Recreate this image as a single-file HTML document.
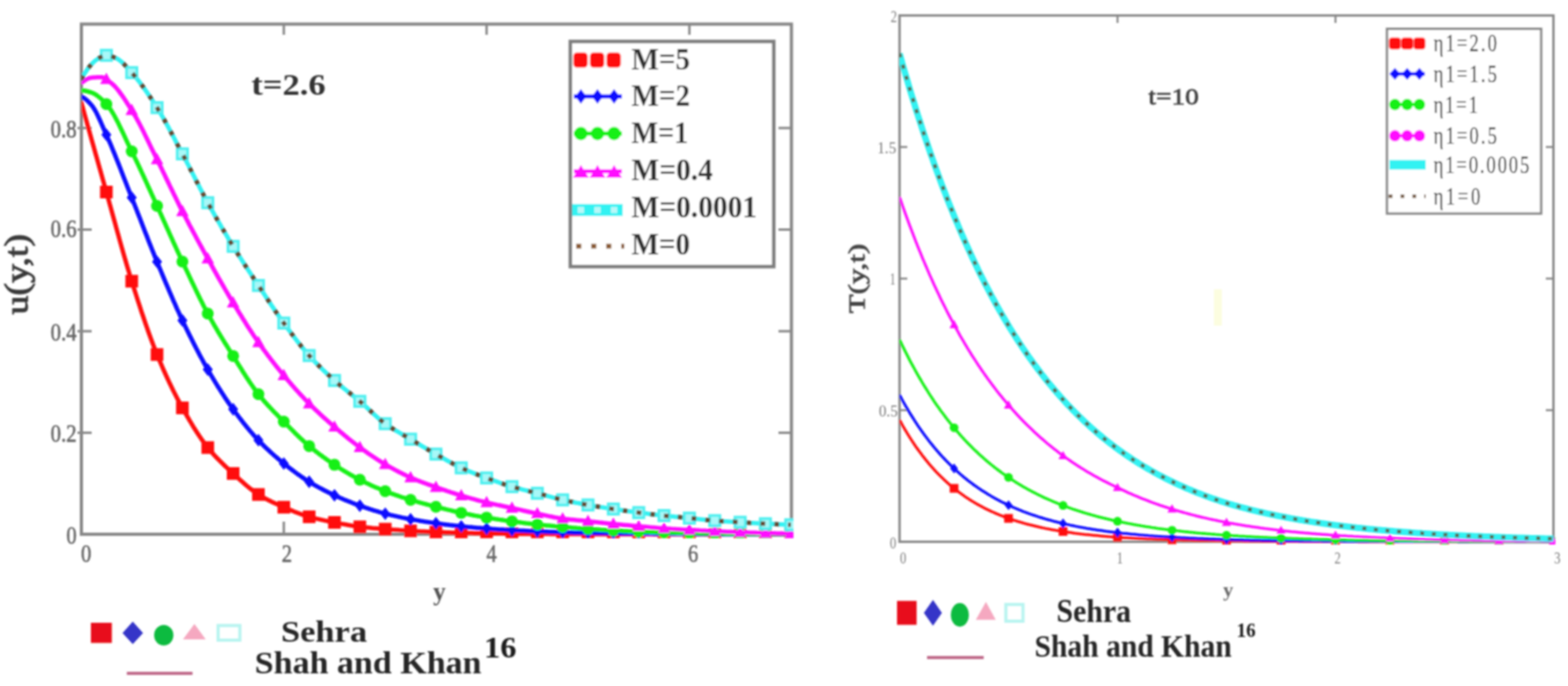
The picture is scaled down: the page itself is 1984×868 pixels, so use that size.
<!DOCTYPE html>
<html><head><meta charset="utf-8"><title>Velocity and temperature profiles</title><style>html,body{margin:0;padding:0;background:#fff;}svg{display:block;}</style></head><body>
<svg width="1984" height="868" viewBox="0 0 1984 868">
<defs><filter id="bl" filterUnits="userSpaceOnUse" x="0" y="0" width="1984" height="868"><feGaussianBlur stdDeviation="1.2"/></filter></defs>
<rect width="100%" height="100%" fill="#fff"/>
<g filter="url(#bl)">
<defs><clipPath id="cl"><rect x="103" y="30" width="901" height="651"/></clipPath><clipPath id="cr"><rect x="1138" y="19" width="830" height="670"/></clipPath></defs>
<rect x="103" y="30.5" width="898.4" height="645.5" fill="none" stroke="#878787" stroke-width="4"/>
<line x1="98" y1="547.6" x2="116" y2="547.6" stroke="#878787" stroke-width="3"/>
<line x1="1001.4" y1="547.6" x2="985" y2="547.6" stroke="#878787" stroke-width="3"/>
<line x1="98" y1="419.1" x2="116" y2="419.1" stroke="#878787" stroke-width="3"/>
<line x1="1001.4" y1="419.1" x2="985" y2="419.1" stroke="#878787" stroke-width="3"/>
<line x1="98" y1="290.5" x2="116" y2="290.5" stroke="#878787" stroke-width="3"/>
<line x1="1001.4" y1="290.5" x2="985" y2="290.5" stroke="#878787" stroke-width="3"/>
<line x1="98" y1="162.0" x2="116" y2="162.0" stroke="#878787" stroke-width="3"/>
<line x1="1001.4" y1="162.0" x2="985" y2="162.0" stroke="#878787" stroke-width="3"/>
<line x1="359.1" y1="30.5" x2="359.1" y2="44" stroke="#878787" stroke-width="3"/>
<line x1="359.1" y1="676" x2="359.1" y2="660" stroke="#878787" stroke-width="3"/>
<line x1="615.7" y1="30.5" x2="615.7" y2="44" stroke="#878787" stroke-width="3"/>
<line x1="615.7" y1="676" x2="615.7" y2="660" stroke="#878787" stroke-width="3"/>
<line x1="872.3" y1="30.5" x2="872.3" y2="44" stroke="#878787" stroke-width="3"/>
<line x1="872.3" y1="676" x2="872.3" y2="660" stroke="#878787" stroke-width="3"/>
<g clip-path="url(#cl)">
<path d="M102.5,128.5 L104.8,136.6 L107.0,144.7 L109.3,152.8 L111.5,160.8 L113.8,168.9 L116.0,176.9 L118.3,184.9 L120.5,193.0 L122.8,201.0 L125.0,209.0 L127.3,217.0 L129.5,225.0 L131.8,233.0 L134.0,241.0 L136.3,249.0 L138.5,257.0 L140.8,265.2 L143.0,273.3 L145.3,281.5 L147.5,289.6 L149.8,297.8 L152.0,305.9 L154.3,313.9 L156.5,321.8 L158.8,329.6 L161.0,337.3 L163.3,344.8 L165.5,352.2 L167.8,359.3 L170.0,366.4 L172.3,373.5 L174.5,380.5 L176.8,387.4 L179.0,394.3 L181.3,401.0 L183.5,407.6 L185.8,414.2 L188.0,420.5 L190.3,426.8 L192.5,432.8 L194.8,438.8 L197.0,444.5 L199.3,450.0 L201.5,455.4 L203.8,460.7 L206.0,465.9 L208.3,471.0 L210.5,475.9 L212.8,480.8 L215.0,485.6 L217.3,490.2 L219.5,494.8 L221.8,499.2 L224.0,503.6 L226.3,507.9 L228.5,512.1 L230.8,516.1 L233.1,520.2 L235.3,524.1 L237.6,528.0 L239.8,531.9 L242.1,535.7 L244.3,539.4 L246.6,543.0 L248.8,546.5 L251.1,550.0 L253.3,553.3 L255.6,556.6 L257.8,559.7 L260.1,562.7 L262.3,565.6 L264.6,568.3 L266.8,571.0 L269.1,573.6 L271.3,576.1 L273.6,578.5 L275.8,580.8 L278.1,583.1 L280.3,585.3 L282.6,587.5 L284.8,589.7 L287.1,591.8 L289.3,593.9 L291.6,596.0 L293.8,598.0 L296.1,600.1 L298.3,602.2 L300.6,604.2 L302.8,606.3 L305.1,608.3 L307.3,610.3 L309.6,612.3 L311.8,614.3 L314.1,616.1 L316.3,618.0 L318.6,619.7 L320.8,621.4 L323.1,623.1 L325.3,624.6 L327.6,626.0 L329.8,627.4 L332.1,628.7 L334.3,630.0 L336.6,631.2 L338.8,632.4 L341.1,633.5 L343.3,634.7 L345.6,635.7 L347.8,636.8 L350.1,637.8 L352.3,638.9 L354.6,639.9 L356.8,640.8 L359.1,641.8 L361.4,642.8 L363.6,643.7 L365.9,644.7 L368.1,645.6 L370.4,646.6 L372.6,647.5 L374.9,648.3 L377.1,649.2 L379.4,650.0 L381.6,650.9 L383.9,651.6 L386.1,652.4 L388.4,653.1 L390.6,653.7 L392.9,654.4 L395.1,655.0 L397.4,655.5 L399.6,656.1 L401.9,656.6 L404.1,657.1 L406.4,657.6 L408.6,658.1 L410.9,658.6 L413.1,659.0 L415.4,659.5 L417.6,659.9 L419.9,660.4 L422.1,660.8 L424.4,661.2 L426.6,661.7 L428.9,662.1 L431.1,662.6 L433.4,663.0 L435.6,663.4 L437.9,663.8 L440.1,664.2 L442.4,664.6 L444.6,665.0 L446.9,665.4 L449.1,665.7 L451.4,666.0 L453.6,666.3 L455.9,666.6 L458.1,666.9 L460.4,667.1 L462.6,667.4 L464.9,667.6 L467.1,667.8 L469.4,668.0 L471.6,668.3 L473.9,668.4 L476.1,668.6 L478.4,668.8 L480.6,669.0 L482.9,669.2 L485.1,669.3 L487.4,669.5 L489.7,669.7 L491.9,669.8 L494.2,670.0 L496.4,670.2 L498.7,670.3 L500.9,670.5 L503.2,670.6 L505.4,670.8 L507.7,670.9 L509.9,671.1 L512.2,671.2 L514.4,671.4 L516.7,671.5 L518.9,671.6 L521.2,671.8 L523.4,671.9 L525.7,672.0 L527.9,672.2 L530.2,672.3 L532.4,672.4 L534.7,672.5 L536.9,672.6 L539.2,672.7 L541.4,672.8 L543.7,672.9 L545.9,673.0 L548.2,673.1 L550.4,673.2 L552.7,673.3 L554.9,673.4 L557.2,673.4 L559.4,673.5 L561.7,673.6 L563.9,673.7 L566.2,673.7 L568.4,673.8 L570.7,673.9 L572.9,674.0 L575.2,674.0 L577.4,674.1 L579.7,674.2 L581.9,674.2 L584.2,674.3 L586.4,674.3 L588.7,674.4 L590.9,674.5 L593.2,674.5 L595.4,674.6 L597.7,674.6 L599.9,674.7 L602.2,674.7 L604.4,674.7 L606.7,674.8 L608.9,674.8 L611.2,674.9 L613.4,674.9 L615.7,674.9 L618.0,674.9 L620.2,675.0 L622.5,675.0 L624.7,675.0 L627.0,675.0 L629.2,675.1 L631.5,675.1 L633.7,675.1 L636.0,675.1 L638.2,675.2 L640.5,675.2 L642.7,675.2 L645.0,675.2 L647.2,675.3 L649.5,675.3 L651.7,675.3 L654.0,675.3 L656.2,675.4 L658.5,675.4 L660.7,675.4 L663.0,675.4 L665.2,675.4 L667.5,675.4 L669.7,675.5 L672.0,675.5 L674.2,675.5 L676.5,675.5 L678.7,675.5 L681.0,675.6 L683.2,675.6 L685.5,675.6 L687.7,675.6 L690.0,675.6 L692.2,675.6 L694.5,675.6 L696.7,675.7 L699.0,675.7 L701.2,675.7 L703.5,675.7 L705.7,675.7 L708.0,675.7 L710.2,675.7 L712.5,675.7 L714.7,675.8 L717.0,675.8 L719.2,675.8 L721.5,675.8 L723.7,675.8 L726.0,675.8 L728.2,675.8 L730.5,675.8 L732.7,675.8 L735.0,675.8 L737.2,675.9 L739.5,675.9 L741.7,675.9 L744.0,675.9 L746.3,675.9 L748.5,675.9 L750.8,675.9 L753.0,675.9 L755.3,675.9 L757.5,675.9 L759.8,675.9 L762.0,675.9 L764.3,675.9 L766.5,675.9 L768.8,676.0 L771.0,676.0 L773.3,676.0 L775.5,676.0 L777.8,676.0 L780.0,676.0 L782.3,676.0 L784.5,676.0 L786.8,676.0 L789.0,676.0 L791.3,676.0 L793.5,676.0 L795.8,676.0 L798.0,676.0 L800.3,676.0 L802.5,676.0 L804.8,676.0 L807.0,676.0 L809.3,676.0 L811.5,676.1 L813.8,676.1 L816.0,676.1 L818.3,676.1 L820.5,676.1 L822.8,676.1 L825.0,676.1 L827.3,676.1 L829.5,676.1 L831.8,676.1 L834.0,676.1 L836.3,676.1 L838.5,676.1 L840.8,676.1 L843.0,676.1 L845.3,676.1 L847.5,676.1 L849.8,676.1 L852.0,676.1 L854.3,676.1 L856.5,676.1 L858.8,676.1 L861.0,676.1 L863.3,676.1 L865.5,676.1 L867.8,676.1 L870.0,676.1 L872.3,676.1 L874.6,676.1 L876.8,676.1 L879.1,676.1 L881.3,676.1 L883.6,676.1 L885.8,676.1 L888.1,676.1 L890.3,676.1 L892.6,676.2 L894.8,676.2 L897.1,676.2 L899.3,676.2 L901.6,676.2 L903.8,676.2 L906.1,676.2 L908.3,676.2 L910.6,676.2 L912.8,676.2 L915.1,676.2 L917.3,676.2 L919.6,676.2 L921.8,676.2 L924.1,676.2 L926.3,676.2 L928.6,676.2 L930.8,676.2 L933.1,676.2 L935.3,676.2 L937.6,676.2 L939.8,676.2 L942.1,676.2 L944.3,676.2 L946.6,676.2 L948.8,676.2 L951.1,676.2 L953.3,676.2 L955.6,676.2 L957.8,676.2 L960.1,676.2 L962.3,676.2 L964.6,676.2 L966.8,676.2 L969.1,676.2 L971.3,676.2 L973.6,676.2 L975.8,676.2 L978.1,676.2 L980.3,676.2 L982.6,676.2 L984.8,676.2 L987.1,676.2 L989.3,676.2 L991.6,676.2 L993.8,676.2 L996.1,676.2 L998.3,676.2 L1000.6,676.2" fill="none" stroke="#ff1010" stroke-width="5.5" stroke-linejoin="round"/>
<rect x="126.6" y="235.0" width="16" height="16" fill="#ff1010"/>
<rect x="158.7" y="347.8" width="16" height="16" fill="#ff1010"/>
<rect x="190.7" y="440.6" width="16" height="16" fill="#ff1010"/>
<rect x="222.8" y="508.1" width="16" height="16" fill="#ff1010"/>
<rect x="254.9" y="558.3" width="16" height="16" fill="#ff1010"/>
<rect x="287.0" y="591.1" width="16" height="16" fill="#ff1010"/>
<rect x="319.0" y="617.7" width="16" height="16" fill="#ff1010"/>
<rect x="351.1" y="633.8" width="16" height="16" fill="#ff1010"/>
<rect x="383.2" y="645.9" width="16" height="16" fill="#ff1010"/>
<rect x="415.2" y="653.0" width="16" height="16" fill="#ff1010"/>
<rect x="447.3" y="658.6" width="16" height="16" fill="#ff1010"/>
<rect x="479.4" y="661.5" width="16" height="16" fill="#ff1010"/>
<rect x="511.5" y="663.7" width="16" height="16" fill="#ff1010"/>
<rect x="543.6" y="665.2" width="16" height="16" fill="#ff1010"/>
<rect x="575.6" y="666.3" width="16" height="16" fill="#ff1010"/>
<rect x="607.7" y="666.9" width="16" height="16" fill="#ff1010"/>
<rect x="639.8" y="667.3" width="16" height="16" fill="#ff1010"/>
<rect x="671.9" y="667.5" width="16" height="16" fill="#ff1010"/>
<rect x="703.9" y="667.7" width="16" height="16" fill="#ff1010"/>
<rect x="736.0" y="667.9" width="16" height="16" fill="#ff1010"/>
<rect x="768.1" y="668.0" width="16" height="16" fill="#ff1010"/>
<rect x="800.2" y="668.0" width="16" height="16" fill="#ff1010"/>
<rect x="832.2" y="668.1" width="16" height="16" fill="#ff1010"/>
<rect x="864.3" y="668.1" width="16" height="16" fill="#ff1010"/>
<rect x="896.4" y="668.2" width="16" height="16" fill="#ff1010"/>
<rect x="928.5" y="668.2" width="16" height="16" fill="#ff1010"/>
<rect x="960.5" y="668.2" width="16" height="16" fill="#ff1010"/>
<rect x="992.6" y="668.2" width="16" height="16" fill="#ff1010"/>
<path d="M102.5,122.1 L104.8,123.1 L107.0,124.5 L109.3,126.3 L111.5,128.4 L113.8,130.7 L116.0,133.2 L118.3,136.3 L120.5,140.0 L122.8,144.3 L125.0,149.0 L127.3,154.0 L129.5,159.1 L131.8,164.3 L134.0,169.3 L136.3,174.3 L138.5,179.4 L140.8,184.7 L143.0,190.1 L145.3,195.6 L147.5,201.2 L149.8,206.9 L152.0,212.6 L154.3,218.4 L156.5,224.2 L158.8,230.0 L161.0,235.7 L163.3,241.5 L165.5,247.2 L167.8,252.8 L170.0,258.5 L172.3,264.3 L174.5,270.0 L176.8,275.8 L179.0,281.6 L181.3,287.4 L183.5,293.2 L185.8,298.9 L188.0,304.7 L190.3,310.4 L192.5,316.0 L194.8,321.6 L197.0,327.2 L199.3,332.6 L201.5,338.1 L203.8,343.5 L206.0,348.9 L208.3,354.3 L210.5,359.6 L212.8,364.9 L215.0,370.2 L217.3,375.4 L219.5,380.6 L221.8,385.7 L224.0,390.8 L226.3,395.7 L228.5,400.6 L230.8,405.4 L233.1,410.1 L235.3,414.8 L237.6,419.4 L239.8,424.0 L242.1,428.6 L244.3,433.0 L246.6,437.5 L248.8,441.8 L251.1,446.1 L253.3,450.4 L255.6,454.5 L257.8,458.6 L260.1,462.7 L262.3,466.6 L264.6,470.5 L266.8,474.4 L269.1,478.2 L271.3,481.9 L273.6,485.6 L275.8,489.2 L278.1,492.8 L280.3,496.3 L282.6,499.8 L284.8,503.2 L287.1,506.6 L289.3,509.9 L291.6,513.1 L293.8,516.3 L296.1,519.4 L298.3,522.4 L300.6,525.4 L302.8,528.4 L305.1,531.3 L307.3,534.2 L309.6,537.0 L311.8,539.8 L314.1,542.5 L316.3,545.2 L318.6,547.8 L320.8,550.4 L323.1,552.9 L325.3,555.3 L327.6,557.7 L329.8,560.0 L332.1,562.3 L334.3,564.5 L336.6,566.7 L338.8,568.8 L341.1,570.9 L343.3,573.0 L345.6,575.0 L347.8,577.0 L350.1,578.9 L352.3,580.8 L354.6,582.7 L356.8,584.6 L359.1,586.4 L361.4,588.2 L363.6,590.0 L365.9,591.8 L368.1,593.5 L370.4,595.2 L372.6,596.9 L374.9,598.6 L377.1,600.2 L379.4,601.8 L381.6,603.4 L383.9,604.9 L386.1,606.4 L388.4,607.8 L390.6,609.3 L392.9,610.6 L395.1,612.0 L397.4,613.3 L399.6,614.6 L401.9,615.9 L404.1,617.1 L406.4,618.3 L408.6,619.5 L410.9,620.7 L413.1,621.8 L415.4,622.9 L417.6,624.0 L419.9,625.1 L422.1,626.2 L424.4,627.2 L426.6,628.2 L428.9,629.3 L431.1,630.2 L433.4,631.2 L435.6,632.2 L437.9,633.1 L440.1,634.0 L442.4,634.9 L444.6,635.8 L446.9,636.7 L449.1,637.6 L451.4,638.4 L453.6,639.2 L455.9,640.0 L458.1,640.8 L460.4,641.6 L462.6,642.4 L464.9,643.1 L467.1,643.9 L469.4,644.6 L471.6,645.3 L473.9,646.1 L476.1,646.7 L478.4,647.4 L480.6,648.1 L482.9,648.7 L485.1,649.3 L487.4,649.9 L489.7,650.5 L491.9,651.0 L494.2,651.6 L496.4,652.1 L498.7,652.6 L500.9,653.1 L503.2,653.6 L505.4,654.1 L507.7,654.6 L509.9,655.1 L512.2,655.5 L514.4,656.0 L516.7,656.4 L518.9,656.8 L521.2,657.2 L523.4,657.6 L525.7,658.0 L527.9,658.4 L530.2,658.8 L532.4,659.2 L534.7,659.5 L536.9,659.9 L539.2,660.2 L541.4,660.6 L543.7,660.9 L545.9,661.3 L548.2,661.6 L550.4,661.9 L552.7,662.2 L554.9,662.5 L557.2,662.8 L559.4,663.1 L561.7,663.4 L563.9,663.7 L566.2,664.0 L568.4,664.3 L570.7,664.5 L572.9,664.8 L575.2,665.1 L577.4,665.3 L579.7,665.6 L581.9,665.8 L584.2,666.0 L586.4,666.3 L588.7,666.5 L590.9,666.7 L593.2,666.9 L595.4,667.1 L597.7,667.3 L599.9,667.6 L602.2,667.7 L604.4,667.9 L606.7,668.1 L608.9,668.3 L611.2,668.5 L613.4,668.6 L615.7,668.8 L618.0,669.0 L620.2,669.1 L622.5,669.3 L624.7,669.4 L627.0,669.6 L629.2,669.7 L631.5,669.9 L633.7,670.0 L636.0,670.1 L638.2,670.3 L640.5,670.4 L642.7,670.5 L645.0,670.7 L647.2,670.8 L649.5,670.9 L651.7,671.0 L654.0,671.2 L656.2,671.3 L658.5,671.4 L660.7,671.5 L663.0,671.6 L665.2,671.7 L667.5,671.8 L669.7,671.9 L672.0,672.0 L674.2,672.1 L676.5,672.2 L678.7,672.3 L681.0,672.4 L683.2,672.5 L685.5,672.6 L687.7,672.6 L690.0,672.7 L692.2,672.8 L694.5,672.9 L696.7,673.0 L699.0,673.1 L701.2,673.1 L703.5,673.2 L705.7,673.3 L708.0,673.4 L710.2,673.4 L712.5,673.5 L714.7,673.6 L717.0,673.6 L719.2,673.7 L721.5,673.8 L723.7,673.8 L726.0,673.9 L728.2,673.9 L730.5,674.0 L732.7,674.0 L735.0,674.1 L737.2,674.1 L739.5,674.2 L741.7,674.2 L744.0,674.3 L746.3,674.3 L748.5,674.3 L750.8,674.4 L753.0,674.4 L755.3,674.5 L757.5,674.5 L759.8,674.5 L762.0,674.6 L764.3,674.6 L766.5,674.6 L768.8,674.7 L771.0,674.7 L773.3,674.7 L775.5,674.8 L777.8,674.8 L780.0,674.8 L782.3,674.9 L784.5,674.9 L786.8,674.9 L789.0,674.9 L791.3,675.0 L793.5,675.0 L795.8,675.0 L798.0,675.1 L800.3,675.1 L802.5,675.1 L804.8,675.1 L807.0,675.2 L809.3,675.2 L811.5,675.2 L813.8,675.2 L816.0,675.3 L818.3,675.3 L820.5,675.3 L822.8,675.3 L825.0,675.3 L827.3,675.4 L829.5,675.4 L831.8,675.4 L834.0,675.4 L836.3,675.4 L838.5,675.5 L840.8,675.5 L843.0,675.5 L845.3,675.5 L847.5,675.5 L849.8,675.6 L852.0,675.6 L854.3,675.6 L856.5,675.6 L858.8,675.6 L861.0,675.6 L863.3,675.6 L865.5,675.7 L867.8,675.7 L870.0,675.7 L872.3,675.7 L874.6,675.7 L876.8,675.7 L879.1,675.7 L881.3,675.7 L883.6,675.7 L885.8,675.7 L888.1,675.8 L890.3,675.8 L892.6,675.8 L894.8,675.8 L897.1,675.8 L899.3,675.8 L901.6,675.8 L903.8,675.8 L906.1,675.8 L908.3,675.8 L910.6,675.9 L912.8,675.9 L915.1,675.9 L917.3,675.9 L919.6,675.9 L921.8,675.9 L924.1,675.9 L926.3,675.9 L928.6,675.9 L930.8,675.9 L933.1,675.9 L935.3,676.0 L937.6,676.0 L939.8,676.0 L942.1,676.0 L944.3,676.0 L946.6,676.0 L948.8,676.0 L951.1,676.0 L953.3,676.0 L955.6,676.0 L957.8,676.0 L960.1,676.0 L962.3,676.0 L964.6,676.0 L966.8,676.0 L969.1,676.0 L971.3,676.0 L973.6,676.0 L975.8,676.1 L978.1,676.1 L980.3,676.1 L982.6,676.1 L984.8,676.1 L987.1,676.1 L989.3,676.1 L991.6,676.1 L993.8,676.1 L996.1,676.1 L998.3,676.1 L1000.6,676.1" fill="none" stroke="#0a0aff" stroke-width="5.5" stroke-linejoin="round"/>
<path d="M134.6,162.5 L140.9,170.6 L134.6,178.6 L128.3,170.6Z" fill="#0a0aff"/>
<path d="M166.7,242.0 L173.0,250.0 L166.7,258.1 L160.3,250.0Z" fill="#0a0aff"/>
<path d="M198.7,323.2 L205.0,331.3 L198.7,339.3 L192.4,331.3Z" fill="#0a0aff"/>
<path d="M230.8,397.3 L237.1,405.4 L230.8,413.4 L224.5,405.4Z" fill="#0a0aff"/>
<path d="M262.9,459.6 L269.2,467.6 L262.9,475.7 L256.6,467.6Z" fill="#0a0aff"/>
<path d="M295.0,509.8 L301.3,517.8 L295.0,525.9 L288.7,517.8Z" fill="#0a0aff"/>
<path d="M327.0,549.0 L333.3,557.1 L327.0,565.1 L320.7,557.1Z" fill="#0a0aff"/>
<path d="M359.1,578.4 L365.4,586.4 L359.1,594.5 L352.8,586.4Z" fill="#0a0aff"/>
<path d="M391.2,601.6 L397.5,609.6 L391.2,617.7 L384.9,609.6Z" fill="#0a0aff"/>
<path d="M423.2,618.7 L429.6,626.7 L423.2,634.8 L416.9,626.7Z" fill="#0a0aff"/>
<path d="M455.3,631.8 L461.6,639.8 L455.3,647.9 L449.0,639.8Z" fill="#0a0aff"/>
<path d="M487.4,641.9 L493.7,649.9 L487.4,658.0 L481.1,649.9Z" fill="#0a0aff"/>
<path d="M519.5,648.9 L525.8,656.9 L519.5,665.0 L513.2,656.9Z" fill="#0a0aff"/>
<path d="M551.6,654.0 L557.9,662.1 L551.6,670.1 L545.3,662.1Z" fill="#0a0aff"/>
<path d="M583.6,657.9 L589.9,666.0 L583.6,674.0 L577.3,666.0Z" fill="#0a0aff"/>
<path d="M615.7,660.8 L622.0,668.8 L615.7,676.9 L609.4,668.8Z" fill="#0a0aff"/>
<path d="M647.8,662.8 L654.1,670.8 L647.8,678.9 L641.5,670.8Z" fill="#0a0aff"/>
<path d="M679.9,664.3 L686.1,672.3 L679.9,680.4 L673.6,672.3Z" fill="#0a0aff"/>
<path d="M711.9,665.4 L718.2,673.5 L711.9,681.5 L705.6,673.5Z" fill="#0a0aff"/>
<path d="M744.0,666.2 L750.3,674.3 L744.0,682.3 L737.7,674.3Z" fill="#0a0aff"/>
<path d="M776.1,666.7 L782.4,674.8 L776.1,682.8 L769.8,674.8Z" fill="#0a0aff"/>
<path d="M808.2,667.1 L814.5,675.2 L808.2,683.2 L801.9,675.2Z" fill="#0a0aff"/>
<path d="M840.2,667.4 L846.5,675.5 L840.2,683.5 L833.9,675.5Z" fill="#0a0aff"/>
<path d="M872.3,667.6 L878.6,675.7 L872.3,683.7 L866.0,675.7Z" fill="#0a0aff"/>
<path d="M904.4,667.8 L910.7,675.8 L904.4,683.9 L898.1,675.8Z" fill="#0a0aff"/>
<path d="M936.5,667.9 L942.8,676.0 L936.5,684.0 L930.2,676.0Z" fill="#0a0aff"/>
<path d="M968.5,668.0 L974.8,676.0 L968.5,684.1 L962.2,676.0Z" fill="#0a0aff"/>
<path d="M1000.6,668.0 L1006.9,676.1 L1000.6,684.1 L994.3,676.1Z" fill="#0a0aff"/>
<path d="M102.5,114.4 L104.8,114.5 L107.0,114.8 L109.3,115.3 L111.5,115.8 L113.8,116.5 L116.0,117.2 L118.3,118.1 L120.5,119.4 L122.8,120.9 L125.0,122.6 L127.3,124.5 L129.5,126.6 L131.8,128.8 L134.0,131.2 L136.3,133.7 L138.5,136.6 L140.8,139.9 L143.0,143.5 L145.3,147.5 L147.5,151.7 L149.8,156.1 L152.0,160.7 L154.3,165.5 L156.5,170.2 L158.8,175.1 L161.0,179.9 L163.3,184.6 L165.5,189.3 L167.8,193.8 L170.0,198.4 L172.3,203.0 L174.5,207.7 L176.8,212.5 L179.0,217.4 L181.3,222.2 L183.5,227.1 L185.8,232.1 L188.0,237.0 L190.3,242.0 L192.5,246.9 L194.8,251.9 L197.0,256.8 L199.3,261.7 L201.5,266.6 L203.8,271.6 L206.0,276.6 L208.3,281.6 L210.5,286.6 L212.8,291.6 L215.0,296.6 L217.3,301.6 L219.5,306.6 L221.8,311.5 L224.0,316.5 L226.3,321.4 L228.5,326.2 L230.8,331.0 L233.1,335.8 L235.3,340.6 L237.6,345.4 L239.8,350.2 L242.1,355.0 L244.3,359.7 L246.6,364.4 L248.8,369.1 L251.1,373.7 L253.3,378.3 L255.6,382.8 L257.8,387.2 L260.1,391.5 L262.3,395.7 L264.6,399.9 L266.8,403.9 L269.1,407.9 L271.3,411.8 L273.6,415.7 L275.8,419.5 L278.1,423.2 L280.3,426.9 L282.6,430.6 L284.8,434.2 L287.1,437.8 L289.3,441.4 L291.6,445.0 L293.8,448.6 L296.1,452.2 L298.3,455.8 L300.6,459.4 L302.8,463.0 L305.1,466.6 L307.3,470.2 L309.6,473.7 L311.8,477.2 L314.1,480.6 L316.3,484.0 L318.6,487.3 L320.8,490.5 L323.1,493.6 L325.3,496.6 L327.6,499.5 L329.8,502.3 L332.1,505.0 L334.3,507.6 L336.6,510.1 L338.8,512.6 L341.1,515.0 L343.3,517.4 L345.6,519.8 L347.8,522.1 L350.1,524.4 L352.3,526.7 L354.6,528.9 L356.8,531.2 L359.1,533.5 L361.4,535.8 L363.6,538.1 L365.9,540.4 L368.1,542.6 L370.4,544.9 L372.6,547.2 L374.9,549.4 L377.1,551.6 L379.4,553.7 L381.6,555.9 L383.9,557.9 L386.1,560.0 L388.4,562.0 L390.6,563.9 L392.9,565.8 L395.1,567.6 L397.4,569.4 L399.6,571.2 L401.9,572.9 L404.1,574.7 L406.4,576.3 L408.6,578.0 L410.9,579.6 L413.1,581.2 L415.4,582.8 L417.6,584.4 L419.9,585.9 L422.1,587.4 L424.4,588.9 L426.6,590.3 L428.9,591.8 L431.1,593.2 L433.4,594.6 L435.6,596.0 L437.9,597.3 L440.1,598.7 L442.4,600.0 L444.6,601.3 L446.9,602.5 L449.1,603.8 L451.4,605.0 L453.6,606.2 L455.9,607.3 L458.1,608.5 L460.4,609.6 L462.6,610.7 L464.9,611.8 L467.1,612.8 L469.4,613.9 L471.6,614.9 L473.9,615.9 L476.1,616.9 L478.4,617.8 L480.6,618.8 L482.9,619.7 L485.1,620.6 L487.4,621.5 L489.7,622.4 L491.9,623.2 L494.2,624.1 L496.4,624.9 L498.7,625.7 L500.9,626.5 L503.2,627.2 L505.4,628.0 L507.7,628.8 L509.9,629.5 L512.2,630.2 L514.4,630.9 L516.7,631.6 L518.9,632.3 L521.2,633.0 L523.4,633.7 L525.7,634.3 L527.9,634.9 L530.2,635.6 L532.4,636.2 L534.7,636.8 L536.9,637.4 L539.2,638.0 L541.4,638.6 L543.7,639.2 L545.9,639.7 L548.2,640.3 L550.4,640.9 L552.7,641.5 L554.9,642.0 L557.2,642.6 L559.4,643.2 L561.7,643.7 L563.9,644.3 L566.2,644.9 L568.4,645.4 L570.7,645.9 L572.9,646.5 L575.2,647.0 L577.4,647.5 L579.7,648.0 L581.9,648.5 L584.2,649.0 L586.4,649.5 L588.7,649.9 L590.9,650.4 L593.2,650.8 L595.4,651.3 L597.7,651.7 L599.9,652.2 L602.2,652.6 L604.4,653.0 L606.7,653.4 L608.9,653.8 L611.2,654.2 L613.4,654.6 L615.7,654.9 L618.0,655.3 L620.2,655.6 L622.5,656.0 L624.7,656.3 L627.0,656.7 L629.2,657.0 L631.5,657.4 L633.7,657.7 L636.0,658.0 L638.2,658.4 L640.5,658.7 L642.7,659.0 L645.0,659.3 L647.2,659.6 L649.5,659.9 L651.7,660.2 L654.0,660.5 L656.2,660.8 L658.5,661.1 L660.7,661.4 L663.0,661.7 L665.2,662.0 L667.5,662.2 L669.7,662.5 L672.0,662.8 L674.2,663.0 L676.5,663.3 L678.7,663.5 L681.0,663.8 L683.2,664.0 L685.5,664.3 L687.7,664.5 L690.0,664.7 L692.2,664.9 L694.5,665.1 L696.7,665.3 L699.0,665.5 L701.2,665.8 L703.5,666.0 L705.7,666.1 L708.0,666.3 L710.2,666.5 L712.5,666.7 L714.7,666.9 L717.0,667.1 L719.2,667.3 L721.5,667.5 L723.7,667.7 L726.0,667.9 L728.2,668.1 L730.5,668.3 L732.7,668.4 L735.0,668.6 L737.2,668.8 L739.5,668.9 L741.7,669.1 L744.0,669.3 L746.3,669.4 L748.5,669.5 L750.8,669.7 L753.0,669.8 L755.3,670.0 L757.5,670.1 L759.8,670.3 L762.0,670.4 L764.3,670.5 L766.5,670.7 L768.8,670.8 L771.0,670.9 L773.3,671.0 L775.5,671.2 L777.8,671.3 L780.0,671.4 L782.3,671.5 L784.5,671.6 L786.8,671.7 L789.0,671.9 L791.3,672.0 L793.5,672.1 L795.8,672.2 L798.0,672.3 L800.3,672.4 L802.5,672.4 L804.8,672.5 L807.0,672.6 L809.3,672.7 L811.5,672.8 L813.8,672.9 L816.0,672.9 L818.3,673.0 L820.5,673.1 L822.8,673.2 L825.0,673.3 L827.3,673.3 L829.5,673.4 L831.8,673.5 L834.0,673.5 L836.3,673.6 L838.5,673.7 L840.8,673.7 L843.0,673.8 L845.3,673.9 L847.5,673.9 L849.8,674.0 L852.0,674.0 L854.3,674.1 L856.5,674.2 L858.8,674.2 L861.0,674.3 L863.3,674.3 L865.5,674.3 L867.8,674.4 L870.0,674.4 L872.3,674.5 L874.6,674.5 L876.8,674.5 L879.1,674.6 L881.3,674.6 L883.6,674.6 L885.8,674.7 L888.1,674.7 L890.3,674.8 L892.6,674.8 L894.8,674.8 L897.1,674.9 L899.3,674.9 L901.6,674.9 L903.8,675.0 L906.1,675.0 L908.3,675.0 L910.6,675.1 L912.8,675.1 L915.1,675.1 L917.3,675.2 L919.6,675.2 L921.8,675.2 L924.1,675.2 L926.3,675.3 L928.6,675.3 L930.8,675.3 L933.1,675.4 L935.3,675.4 L937.6,675.4 L939.8,675.4 L942.1,675.5 L944.3,675.5 L946.6,675.5 L948.8,675.5 L951.1,675.6 L953.3,675.6 L955.6,675.6 L957.8,675.6 L960.1,675.6 L962.3,675.7 L964.6,675.7 L966.8,675.7 L969.1,675.7 L971.3,675.7 L973.6,675.7 L975.8,675.7 L978.1,675.8 L980.3,675.8 L982.6,675.8 L984.8,675.8 L987.1,675.8 L989.3,675.8 L991.6,675.8 L993.8,675.8 L996.1,675.8 L998.3,675.8 L1000.6,675.8" fill="none" stroke="#14f014" stroke-width="5.5" stroke-linejoin="round"/>
<circle cx="134.6" cy="131.7" r="7.5" fill="#14f014"/>
<circle cx="166.7" cy="191.5" r="7.5" fill="#14f014"/>
<circle cx="198.7" cy="260.5" r="7.5" fill="#14f014"/>
<circle cx="230.8" cy="331.0" r="7.5" fill="#14f014"/>
<circle cx="262.9" cy="396.8" r="7.5" fill="#14f014"/>
<circle cx="295.0" cy="450.4" r="7.5" fill="#14f014"/>
<circle cx="327.0" cy="498.8" r="7.5" fill="#14f014"/>
<circle cx="359.1" cy="533.5" r="7.5" fill="#14f014"/>
<circle cx="391.2" cy="564.4" r="7.5" fill="#14f014"/>
<circle cx="423.2" cy="588.1" r="7.5" fill="#14f014"/>
<circle cx="455.3" cy="607.0" r="7.5" fill="#14f014"/>
<circle cx="487.4" cy="621.5" r="7.5" fill="#14f014"/>
<circle cx="519.5" cy="632.5" r="7.5" fill="#14f014"/>
<circle cx="551.6" cy="641.2" r="7.5" fill="#14f014"/>
<circle cx="583.6" cy="648.9" r="7.5" fill="#14f014"/>
<circle cx="615.7" cy="654.9" r="7.5" fill="#14f014"/>
<circle cx="647.8" cy="659.7" r="7.5" fill="#14f014"/>
<circle cx="679.9" cy="663.7" r="7.5" fill="#14f014"/>
<circle cx="711.9" cy="666.7" r="7.5" fill="#14f014"/>
<circle cx="744.0" cy="669.3" r="7.5" fill="#14f014"/>
<circle cx="776.1" cy="671.2" r="7.5" fill="#14f014"/>
<circle cx="808.2" cy="672.7" r="7.5" fill="#14f014"/>
<circle cx="840.2" cy="673.7" r="7.5" fill="#14f014"/>
<circle cx="872.3" cy="674.5" r="7.5" fill="#14f014"/>
<circle cx="904.4" cy="675.0" r="7.5" fill="#14f014"/>
<circle cx="936.5" cy="675.4" r="7.5" fill="#14f014"/>
<circle cx="968.5" cy="675.7" r="7.5" fill="#14f014"/>
<circle cx="1000.6" cy="675.8" r="7.5" fill="#14f014"/>
<path d="M102.5,105.4 L104.8,103.6 L107.0,102.0 L109.3,100.5 L111.5,99.4 L113.8,98.6 L116.0,98.3 L118.3,98.1 L120.5,97.9 L122.8,97.8 L125.0,97.7 L127.3,97.7 L129.5,97.8 L131.8,98.6 L134.0,99.9 L136.3,101.5 L138.5,103.4 L140.8,105.2 L143.0,107.1 L145.3,109.3 L147.5,111.8 L149.8,114.5 L152.0,117.5 L154.3,120.6 L156.5,123.8 L158.8,127.2 L161.0,130.7 L163.3,134.2 L165.5,137.7 L167.8,141.3 L170.0,145.0 L172.3,148.9 L174.5,153.0 L176.8,157.3 L179.0,161.6 L181.3,166.1 L183.5,170.6 L185.8,175.3 L188.0,179.9 L190.3,184.6 L192.5,189.2 L194.8,193.8 L197.0,198.4 L199.3,202.9 L201.5,207.5 L203.8,212.0 L206.0,216.7 L208.3,221.3 L210.5,226.0 L212.8,230.7 L215.0,235.4 L217.3,240.0 L219.5,244.7 L221.8,249.3 L224.0,253.9 L226.3,258.5 L228.5,263.0 L230.8,267.4 L233.1,271.8 L235.3,276.1 L237.6,280.4 L239.8,284.7 L242.1,288.9 L244.3,293.1 L246.6,297.3 L248.8,301.5 L251.1,305.7 L253.3,309.8 L255.6,313.9 L257.8,318.0 L260.1,322.1 L262.3,326.1 L264.6,330.2 L266.8,334.2 L269.1,338.3 L271.3,342.3 L273.6,346.3 L275.8,350.3 L278.1,354.3 L280.3,358.2 L282.6,362.1 L284.8,366.0 L287.1,369.9 L289.3,373.7 L291.6,377.5 L293.8,381.2 L296.1,384.9 L298.3,388.6 L300.6,392.3 L302.8,396.0 L305.1,399.6 L307.3,403.2 L309.6,406.8 L311.8,410.4 L314.1,413.9 L316.3,417.4 L318.6,420.8 L320.8,424.2 L323.1,427.5 L325.3,430.8 L327.6,434.0 L329.8,437.2 L332.1,440.3 L334.3,443.4 L336.6,446.4 L338.8,449.5 L341.1,452.4 L343.3,455.4 L345.6,458.3 L347.8,461.1 L350.1,464.0 L352.3,466.8 L354.6,469.5 L356.8,472.3 L359.1,475.0 L361.4,477.7 L363.6,480.4 L365.9,483.0 L368.1,485.6 L370.4,488.2 L372.6,490.8 L374.9,493.3 L377.1,495.8 L379.4,498.3 L381.6,500.7 L383.9,503.1 L386.1,505.5 L388.4,507.8 L390.6,510.1 L392.9,512.4 L395.1,514.6 L397.4,516.8 L399.6,518.9 L401.9,521.0 L404.1,523.1 L406.4,525.2 L408.6,527.3 L410.9,529.3 L413.1,531.3 L415.4,533.3 L417.6,535.3 L419.9,537.2 L422.1,539.2 L424.4,541.1 L426.6,543.0 L428.9,544.9 L431.1,546.8 L433.4,548.7 L435.6,550.6 L437.9,552.4 L440.1,554.3 L442.4,556.1 L444.6,557.9 L446.9,559.6 L449.1,561.4 L451.4,563.1 L453.6,564.8 L455.9,566.4 L458.1,568.1 L460.4,569.7 L462.6,571.3 L464.9,572.9 L467.1,574.5 L469.4,576.0 L471.6,577.5 L473.9,579.0 L476.1,580.5 L478.4,582.0 L480.6,583.4 L482.9,584.8 L485.1,586.2 L487.4,587.5 L489.7,588.8 L491.9,590.1 L494.2,591.4 L496.4,592.6 L498.7,593.9 L500.9,595.1 L503.2,596.3 L505.4,597.5 L507.7,598.6 L509.9,599.7 L512.2,600.8 L514.4,601.9 L516.7,602.9 L518.9,604.0 L521.2,604.9 L523.4,605.9 L525.7,606.8 L527.9,607.7 L530.2,608.6 L532.4,609.5 L534.7,610.3 L536.9,611.2 L539.2,612.0 L541.4,612.8 L543.7,613.6 L545.9,614.4 L548.2,615.2 L550.4,616.0 L552.7,616.8 L554.9,617.6 L557.2,618.4 L559.4,619.2 L561.7,619.9 L563.9,620.7 L566.2,621.5 L568.4,622.2 L570.7,623.0 L572.9,623.7 L575.2,624.4 L577.4,625.1 L579.7,625.8 L581.9,626.5 L584.2,627.2 L586.4,627.9 L588.7,628.5 L590.9,629.2 L593.2,629.8 L595.4,630.5 L597.7,631.1 L599.9,631.7 L602.2,632.4 L604.4,633.0 L606.7,633.6 L608.9,634.1 L611.2,634.7 L613.4,635.3 L615.7,635.8 L618.0,636.4 L620.2,636.9 L622.5,637.4 L624.7,637.9 L627.0,638.4 L629.2,638.9 L631.5,639.3 L633.7,639.8 L636.0,640.3 L638.2,640.7 L640.5,641.2 L642.7,641.7 L645.0,642.2 L647.2,642.7 L649.5,643.1 L651.7,643.6 L654.0,644.1 L656.2,644.6 L658.5,645.1 L660.7,645.7 L663.0,646.2 L665.2,646.7 L667.5,647.2 L669.7,647.7 L672.0,648.2 L674.2,648.6 L676.5,649.1 L678.7,649.6 L681.0,650.1 L683.2,650.6 L685.5,651.1 L687.7,651.6 L690.0,652.1 L692.2,652.6 L694.5,653.1 L696.7,653.5 L699.0,654.0 L701.2,654.5 L703.5,654.9 L705.7,655.3 L708.0,655.7 L710.2,656.0 L712.5,656.3 L714.7,656.6 L717.0,656.9 L719.2,657.1 L721.5,657.4 L723.7,657.6 L726.0,657.8 L728.2,658.0 L730.5,658.2 L732.7,658.4 L735.0,658.6 L737.2,658.8 L739.5,659.0 L741.7,659.3 L744.0,659.5 L746.3,659.7 L748.5,660.0 L750.8,660.2 L753.0,660.5 L755.3,660.7 L757.5,661.0 L759.8,661.2 L762.0,661.5 L764.3,661.8 L766.5,662.0 L768.8,662.3 L771.0,662.5 L773.3,662.7 L775.5,663.0 L777.8,663.2 L780.0,663.4 L782.3,663.6 L784.5,663.8 L786.8,664.0 L789.0,664.2 L791.3,664.4 L793.5,664.6 L795.8,664.8 L798.0,665.0 L800.3,665.2 L802.5,665.4 L804.8,665.6 L807.0,665.8 L809.3,666.0 L811.5,666.2 L813.8,666.4 L816.0,666.6 L818.3,666.8 L820.5,667.0 L822.8,667.2 L825.0,667.4 L827.3,667.6 L829.5,667.8 L831.8,668.0 L834.0,668.2 L836.3,668.3 L838.5,668.5 L840.8,668.7 L843.0,668.8 L845.3,669.0 L847.5,669.1 L849.8,669.3 L852.0,669.4 L854.3,669.5 L856.5,669.7 L858.8,669.8 L861.0,669.9 L863.3,670.1 L865.5,670.2 L867.8,670.3 L870.0,670.4 L872.3,670.5 L874.6,670.7 L876.8,670.8 L879.1,670.9 L881.3,671.0 L883.6,671.1 L885.8,671.3 L888.1,671.4 L890.3,671.5 L892.6,671.6 L894.8,671.7 L897.1,671.8 L899.3,671.9 L901.6,672.0 L903.8,672.1 L906.1,672.3 L908.3,672.4 L910.6,672.5 L912.8,672.6 L915.1,672.7 L917.3,672.8 L919.6,672.9 L921.8,672.9 L924.1,673.0 L926.3,673.1 L928.6,673.2 L930.8,673.3 L933.1,673.4 L935.3,673.5 L937.6,673.5 L939.8,673.6 L942.1,673.7 L944.3,673.8 L946.6,673.8 L948.8,673.9 L951.1,674.0 L953.3,674.1 L955.6,674.1 L957.8,674.2 L960.1,674.3 L962.3,674.3 L964.6,674.4 L966.8,674.5 L969.1,674.5 L971.3,674.6 L973.6,674.6 L975.8,674.7 L978.1,674.8 L980.3,674.8 L982.6,674.9 L984.8,674.9 L987.1,675.0 L989.3,675.0 L991.6,675.1 L993.8,675.1 L996.1,675.2 L998.3,675.2 L1000.6,675.2" fill="none" stroke="#ff10ff" stroke-width="5.5" stroke-linejoin="round"/>
<path d="M134.6,92.0 L142.4,106.3 L126.7,106.3Z" fill="#ff10ff"/>
<path d="M166.7,131.2 L174.5,145.5 L158.8,145.5Z" fill="#ff10ff"/>
<path d="M198.7,193.6 L206.6,207.8 L190.9,207.8Z" fill="#ff10ff"/>
<path d="M230.8,259.1 L238.7,273.4 L222.9,273.4Z" fill="#ff10ff"/>
<path d="M262.9,318.9 L270.8,333.2 L255.0,333.2Z" fill="#ff10ff"/>
<path d="M295.0,374.8 L302.8,389.1 L287.1,389.1Z" fill="#ff10ff"/>
<path d="M327.0,425.0 L334.9,439.2 L319.2,439.2Z" fill="#ff10ff"/>
<path d="M359.1,466.8 L367.0,481.0 L351.2,481.0Z" fill="#ff10ff"/>
<path d="M391.2,502.4 L399.1,516.7 L383.3,516.7Z" fill="#ff10ff"/>
<path d="M423.2,531.9 L431.1,546.1 L415.4,546.1Z" fill="#ff10ff"/>
<path d="M455.3,557.8 L463.2,572.0 L447.5,572.0Z" fill="#ff10ff"/>
<path d="M487.4,579.2 L495.3,593.5 L479.5,593.5Z" fill="#ff10ff"/>
<path d="M519.5,596.0 L527.4,610.2 L511.6,610.2Z" fill="#ff10ff"/>
<path d="M551.6,608.2 L559.4,622.4 L543.7,622.4Z" fill="#ff10ff"/>
<path d="M583.6,618.8 L591.5,633.0 L575.8,633.0Z" fill="#ff10ff"/>
<path d="M615.7,627.6 L623.6,641.8 L607.8,641.8Z" fill="#ff10ff"/>
<path d="M647.8,634.5 L655.7,648.8 L639.9,648.8Z" fill="#ff10ff"/>
<path d="M679.9,641.6 L687.7,655.8 L672.0,655.8Z" fill="#ff10ff"/>
<path d="M711.9,648.0 L719.8,662.3 L704.1,662.3Z" fill="#ff10ff"/>
<path d="M744.0,651.2 L751.9,665.5 L736.1,665.5Z" fill="#ff10ff"/>
<path d="M776.1,654.8 L784.0,669.0 L768.2,669.0Z" fill="#ff10ff"/>
<path d="M808.2,657.7 L816.0,671.9 L800.3,671.9Z" fill="#ff10ff"/>
<path d="M840.2,660.4 L848.1,674.6 L832.4,674.6Z" fill="#ff10ff"/>
<path d="M872.3,662.3 L880.2,676.5 L864.4,676.5Z" fill="#ff10ff"/>
<path d="M904.4,663.9 L912.3,678.2 L896.5,678.2Z" fill="#ff10ff"/>
<path d="M936.5,665.3 L944.3,679.5 L928.6,679.5Z" fill="#ff10ff"/>
<path d="M968.5,666.3 L976.4,680.5 L960.7,680.5Z" fill="#ff10ff"/>
<path d="M1000.6,667.0 L1008.5,681.2 L992.7,681.2Z" fill="#ff10ff"/>
<path d="M102.5,100.9 L104.8,96.8 L107.0,93.0 L109.3,89.6 L111.5,86.4 L113.8,83.6 L116.0,81.0 L118.3,78.7 L120.5,76.7 L122.8,75.2 L125.0,73.7 L127.3,72.4 L129.5,71.3 L131.8,70.4 L134.0,70.1 L136.3,70.1 L138.5,70.5 L140.8,71.2 L143.0,72.0 L145.3,73.0 L147.5,73.9 L149.8,75.2 L152.0,76.8 L154.3,78.7 L156.5,80.8 L158.8,83.1 L161.0,85.6 L163.3,88.1 L165.5,90.6 L167.8,93.1 L170.0,95.7 L172.3,98.4 L174.5,101.2 L176.8,104.1 L179.0,107.1 L181.3,110.2 L183.5,113.4 L185.8,116.6 L188.0,119.9 L190.3,123.2 L192.5,126.6 L194.8,130.1 L197.0,133.6 L199.3,137.1 L201.5,140.8 L203.8,144.6 L206.0,148.4 L208.3,152.4 L210.5,156.5 L212.8,160.6 L215.0,164.8 L217.3,169.1 L219.5,173.3 L221.8,177.6 L224.0,181.9 L226.3,186.2 L228.5,190.5 L230.8,194.7 L233.1,199.0 L235.3,203.3 L237.6,207.6 L239.8,212.0 L242.1,216.4 L244.3,220.8 L246.6,225.3 L248.8,229.7 L251.1,234.1 L253.3,238.4 L255.6,242.8 L257.8,247.1 L260.1,251.3 L262.3,255.4 L264.6,259.5 L266.8,263.6 L269.1,267.6 L271.3,271.6 L273.6,275.6 L275.8,279.5 L278.1,283.4 L280.3,287.3 L282.6,291.1 L284.8,294.9 L287.1,298.7 L289.3,302.5 L291.6,306.2 L293.8,309.9 L296.1,313.6 L298.3,317.2 L300.6,320.8 L302.8,324.3 L305.1,327.8 L307.3,331.3 L309.6,334.8 L311.8,338.2 L314.1,341.7 L316.3,345.1 L318.6,348.5 L320.8,351.9 L323.1,355.3 L325.3,358.7 L327.6,362.1 L329.8,365.5 L332.1,368.9 L334.3,372.3 L336.6,375.8 L338.8,379.2 L341.1,382.6 L343.3,386.0 L345.6,389.4 L347.8,392.7 L350.1,396.0 L352.3,399.3 L354.6,402.5 L356.8,405.7 L359.1,408.8 L361.4,411.9 L363.6,415.0 L365.9,418.0 L368.1,421.1 L370.4,424.1 L372.6,427.1 L374.9,430.1 L377.1,433.0 L379.4,435.8 L381.6,438.7 L383.9,441.4 L386.1,444.1 L388.4,446.7 L390.6,449.3 L392.9,451.8 L395.1,454.2 L397.4,456.6 L399.6,459.0 L401.9,461.3 L404.1,463.5 L406.4,465.7 L408.6,467.9 L410.9,470.1 L413.1,472.2 L415.4,474.3 L417.6,476.3 L419.9,478.4 L422.1,480.4 L424.4,482.4 L426.6,484.4 L428.9,486.3 L431.1,488.2 L433.4,490.0 L435.6,491.9 L437.9,493.7 L440.1,495.5 L442.4,497.2 L444.6,499.0 L446.9,500.8 L449.1,502.7 L451.4,504.5 L453.6,506.4 L455.9,508.3 L458.1,510.2 L460.4,512.2 L462.6,514.3 L464.9,516.4 L467.1,518.5 L469.4,520.6 L471.6,522.7 L473.9,524.8 L476.1,526.8 L478.4,528.8 L480.6,530.8 L482.9,532.6 L485.1,534.4 L487.4,536.1 L489.7,537.7 L491.9,539.2 L494.2,540.7 L496.4,542.1 L498.7,543.5 L500.9,544.9 L503.2,546.2 L505.4,547.5 L507.7,548.8 L509.9,550.1 L512.2,551.4 L514.4,552.7 L516.7,554.0 L518.9,555.3 L521.2,556.7 L523.4,558.0 L525.7,559.4 L527.9,560.8 L530.2,562.1 L532.4,563.5 L534.7,564.8 L536.9,566.1 L539.2,567.5 L541.4,568.8 L543.7,570.1 L545.9,571.4 L548.2,572.7 L550.4,574.0 L552.7,575.3 L554.9,576.6 L557.2,577.8 L559.4,579.1 L561.7,580.4 L563.9,581.7 L566.2,583.0 L568.4,584.2 L570.7,585.4 L572.9,586.6 L575.2,587.8 L577.4,589.0 L579.7,590.1 L581.9,591.2 L584.2,592.3 L586.4,593.3 L588.7,594.3 L590.9,595.2 L593.2,596.2 L595.4,597.1 L597.7,598.0 L599.9,598.9 L602.2,599.8 L604.4,600.6 L606.7,601.5 L608.9,602.3 L611.2,603.2 L613.4,604.0 L615.7,604.8 L618.0,605.7 L620.2,606.5 L622.5,607.3 L624.7,608.1 L627.0,608.9 L629.2,609.7 L631.5,610.5 L633.7,611.3 L636.0,612.0 L638.2,612.8 L640.5,613.5 L642.7,614.2 L645.0,614.9 L647.2,615.6 L649.5,616.3 L651.7,616.9 L654.0,617.5 L656.2,618.1 L658.5,618.7 L660.7,619.3 L663.0,619.9 L665.2,620.4 L667.5,621.0 L669.7,621.6 L672.0,622.1 L674.2,622.7 L676.5,623.3 L678.7,623.8 L681.0,624.4 L683.2,625.0 L685.5,625.6 L687.7,626.2 L690.0,626.8 L692.2,627.5 L694.5,628.1 L696.7,628.7 L699.0,629.3 L701.2,629.9 L703.5,630.4 L705.7,631.0 L708.0,631.6 L710.2,632.1 L712.5,632.6 L714.7,633.1 L717.0,633.6 L719.2,634.1 L721.5,634.6 L723.7,635.0 L726.0,635.5 L728.2,636.0 L730.5,636.4 L732.7,636.8 L735.0,637.3 L737.2,637.7 L739.5,638.1 L741.7,638.5 L744.0,638.9 L746.3,639.3 L748.5,639.7 L750.8,640.1 L753.0,640.5 L755.3,640.8 L757.5,641.2 L759.8,641.6 L762.0,641.9 L764.3,642.3 L766.5,642.6 L768.8,643.0 L771.0,643.3 L773.3,643.6 L775.5,644.0 L777.8,644.3 L780.0,644.6 L782.3,645.0 L784.5,645.3 L786.8,645.6 L789.0,646.0 L791.3,646.3 L793.5,646.6 L795.8,646.9 L798.0,647.2 L800.3,647.5 L802.5,647.8 L804.8,648.1 L807.0,648.4 L809.3,648.7 L811.5,649.0 L813.8,649.3 L816.0,649.6 L818.3,649.8 L820.5,650.1 L822.8,650.4 L825.0,650.7 L827.3,650.9 L829.5,651.2 L831.8,651.5 L834.0,651.7 L836.3,652.0 L838.5,652.2 L840.8,652.5 L843.0,652.7 L845.3,653.0 L847.5,653.2 L849.8,653.4 L852.0,653.6 L854.3,653.9 L856.5,654.1 L858.8,654.3 L861.0,654.5 L863.3,654.7 L865.5,655.0 L867.8,655.2 L870.0,655.4 L872.3,655.6 L874.6,655.9 L876.8,656.1 L879.1,656.3 L881.3,656.6 L883.6,656.8 L885.8,657.1 L888.1,657.3 L890.3,657.5 L892.6,657.8 L894.8,658.0 L897.1,658.2 L899.3,658.4 L901.6,658.6 L903.8,658.8 L906.1,659.0 L908.3,659.1 L910.6,659.3 L912.8,659.4 L915.1,659.6 L917.3,659.7 L919.6,659.8 L921.8,659.9 L924.1,660.1 L926.3,660.2 L928.6,660.3 L930.8,660.4 L933.1,660.6 L935.3,660.7 L937.6,660.8 L939.8,661.0 L942.1,661.1 L944.3,661.3 L946.6,661.4 L948.8,661.6 L951.1,661.7 L953.3,661.8 L955.6,662.0 L957.8,662.1 L960.1,662.2 L962.3,662.4 L964.6,662.5 L966.8,662.6 L969.1,662.7 L971.3,662.8 L973.6,662.9 L975.8,663.0 L978.1,663.1 L980.3,663.2 L982.6,663.3 L984.8,663.4 L987.1,663.5 L989.3,663.6 L991.6,663.7 L993.8,663.8 L996.1,663.8 L998.3,663.9 L1000.6,664.0" fill="none" stroke="#30f2f2" stroke-width="5.5" stroke-linejoin="round"/>
<rect x="128.1" y="63.5" width="13" height="13" fill="#a8f8f8" stroke="#50f0f0" stroke-width="3.5"/>
<rect x="160.2" y="85.4" width="13" height="13" fill="#a8f8f8" stroke="#50f0f0" stroke-width="3.5"/>
<rect x="192.2" y="129.7" width="13" height="13" fill="#a8f8f8" stroke="#50f0f0" stroke-width="3.5"/>
<rect x="224.3" y="188.2" width="13" height="13" fill="#a8f8f8" stroke="#50f0f0" stroke-width="3.5"/>
<rect x="256.4" y="250.0" width="13" height="13" fill="#a8f8f8" stroke="#50f0f0" stroke-width="3.5"/>
<rect x="288.5" y="305.2" width="13" height="13" fill="#a8f8f8" stroke="#50f0f0" stroke-width="3.5"/>
<rect x="320.5" y="354.7" width="13" height="13" fill="#a8f8f8" stroke="#50f0f0" stroke-width="3.5"/>
<rect x="352.6" y="402.3" width="13" height="13" fill="#a8f8f8" stroke="#50f0f0" stroke-width="3.5"/>
<rect x="384.7" y="443.4" width="13" height="13" fill="#a8f8f8" stroke="#50f0f0" stroke-width="3.5"/>
<rect x="416.8" y="474.9" width="13" height="13" fill="#a8f8f8" stroke="#50f0f0" stroke-width="3.5"/>
<rect x="448.8" y="501.3" width="13" height="13" fill="#a8f8f8" stroke="#50f0f0" stroke-width="3.5"/>
<rect x="480.9" y="529.6" width="13" height="13" fill="#a8f8f8" stroke="#50f0f0" stroke-width="3.5"/>
<rect x="513.0" y="549.2" width="13" height="13" fill="#a8f8f8" stroke="#50f0f0" stroke-width="3.5"/>
<rect x="545.1" y="568.1" width="13" height="13" fill="#a8f8f8" stroke="#50f0f0" stroke-width="3.5"/>
<rect x="577.1" y="585.5" width="13" height="13" fill="#a8f8f8" stroke="#50f0f0" stroke-width="3.5"/>
<rect x="609.2" y="598.3" width="13" height="13" fill="#a8f8f8" stroke="#50f0f0" stroke-width="3.5"/>
<rect x="641.3" y="609.3" width="13" height="13" fill="#a8f8f8" stroke="#50f0f0" stroke-width="3.5"/>
<rect x="673.4" y="617.6" width="13" height="13" fill="#a8f8f8" stroke="#50f0f0" stroke-width="3.5"/>
<rect x="705.4" y="626.0" width="13" height="13" fill="#a8f8f8" stroke="#50f0f0" stroke-width="3.5"/>
<rect x="737.5" y="632.4" width="13" height="13" fill="#a8f8f8" stroke="#50f0f0" stroke-width="3.5"/>
<rect x="769.6" y="637.6" width="13" height="13" fill="#a8f8f8" stroke="#50f0f0" stroke-width="3.5"/>
<rect x="801.7" y="642.1" width="13" height="13" fill="#a8f8f8" stroke="#50f0f0" stroke-width="3.5"/>
<rect x="833.7" y="645.9" width="13" height="13" fill="#a8f8f8" stroke="#50f0f0" stroke-width="3.5"/>
<rect x="865.8" y="649.1" width="13" height="13" fill="#a8f8f8" stroke="#50f0f0" stroke-width="3.5"/>
<rect x="897.9" y="652.3" width="13" height="13" fill="#a8f8f8" stroke="#50f0f0" stroke-width="3.5"/>
<rect x="930.0" y="654.3" width="13" height="13" fill="#a8f8f8" stroke="#50f0f0" stroke-width="3.5"/>
<rect x="962.0" y="656.2" width="13" height="13" fill="#a8f8f8" stroke="#50f0f0" stroke-width="3.5"/>
<rect x="994.1" y="657.5" width="13" height="13" fill="#a8f8f8" stroke="#50f0f0" stroke-width="3.5"/>
<path d="M102.5,100.9 L104.8,96.8 L107.0,93.0 L109.3,89.6 L111.5,86.4 L113.8,83.6 L116.0,81.0 L118.3,78.7 L120.5,76.7 L122.8,75.2 L125.0,73.7 L127.3,72.4 L129.5,71.3 L131.8,70.4 L134.0,70.1 L136.3,70.1 L138.5,70.5 L140.8,71.2 L143.0,72.0 L145.3,73.0 L147.5,73.9 L149.8,75.2 L152.0,76.8 L154.3,78.7 L156.5,80.8 L158.8,83.1 L161.0,85.6 L163.3,88.1 L165.5,90.6 L167.8,93.1 L170.0,95.7 L172.3,98.4 L174.5,101.2 L176.8,104.1 L179.0,107.1 L181.3,110.2 L183.5,113.4 L185.8,116.6 L188.0,119.9 L190.3,123.2 L192.5,126.6 L194.8,130.1 L197.0,133.6 L199.3,137.1 L201.5,140.8 L203.8,144.6 L206.0,148.4 L208.3,152.4 L210.5,156.5 L212.8,160.6 L215.0,164.8 L217.3,169.1 L219.5,173.3 L221.8,177.6 L224.0,181.9 L226.3,186.2 L228.5,190.5 L230.8,194.7 L233.1,199.0 L235.3,203.3 L237.6,207.6 L239.8,212.0 L242.1,216.4 L244.3,220.8 L246.6,225.3 L248.8,229.7 L251.1,234.1 L253.3,238.4 L255.6,242.8 L257.8,247.1 L260.1,251.3 L262.3,255.4 L264.6,259.5 L266.8,263.6 L269.1,267.6 L271.3,271.6 L273.6,275.6 L275.8,279.5 L278.1,283.4 L280.3,287.3 L282.6,291.1 L284.8,294.9 L287.1,298.7 L289.3,302.5 L291.6,306.2 L293.8,309.9 L296.1,313.6 L298.3,317.2 L300.6,320.8 L302.8,324.3 L305.1,327.8 L307.3,331.3 L309.6,334.8 L311.8,338.2 L314.1,341.7 L316.3,345.1 L318.6,348.5 L320.8,351.9 L323.1,355.3 L325.3,358.7 L327.6,362.1 L329.8,365.5 L332.1,368.9 L334.3,372.3 L336.6,375.8 L338.8,379.2 L341.1,382.6 L343.3,386.0 L345.6,389.4 L347.8,392.7 L350.1,396.0 L352.3,399.3 L354.6,402.5 L356.8,405.7 L359.1,408.8 L361.4,411.9 L363.6,415.0 L365.9,418.0 L368.1,421.1 L370.4,424.1 L372.6,427.1 L374.9,430.1 L377.1,433.0 L379.4,435.8 L381.6,438.7 L383.9,441.4 L386.1,444.1 L388.4,446.7 L390.6,449.3 L392.9,451.8 L395.1,454.2 L397.4,456.6 L399.6,459.0 L401.9,461.3 L404.1,463.5 L406.4,465.7 L408.6,467.9 L410.9,470.1 L413.1,472.2 L415.4,474.3 L417.6,476.3 L419.9,478.4 L422.1,480.4 L424.4,482.4 L426.6,484.4 L428.9,486.3 L431.1,488.2 L433.4,490.0 L435.6,491.9 L437.9,493.7 L440.1,495.5 L442.4,497.2 L444.6,499.0 L446.9,500.8 L449.1,502.7 L451.4,504.5 L453.6,506.4 L455.9,508.3 L458.1,510.2 L460.4,512.2 L462.6,514.3 L464.9,516.4 L467.1,518.5 L469.4,520.6 L471.6,522.7 L473.9,524.8 L476.1,526.8 L478.4,528.8 L480.6,530.8 L482.9,532.6 L485.1,534.4 L487.4,536.1 L489.7,537.7 L491.9,539.2 L494.2,540.7 L496.4,542.1 L498.7,543.5 L500.9,544.9 L503.2,546.2 L505.4,547.5 L507.7,548.8 L509.9,550.1 L512.2,551.4 L514.4,552.7 L516.7,554.0 L518.9,555.3 L521.2,556.7 L523.4,558.0 L525.7,559.4 L527.9,560.8 L530.2,562.1 L532.4,563.5 L534.7,564.8 L536.9,566.1 L539.2,567.5 L541.4,568.8 L543.7,570.1 L545.9,571.4 L548.2,572.7 L550.4,574.0 L552.7,575.3 L554.9,576.6 L557.2,577.8 L559.4,579.1 L561.7,580.4 L563.9,581.7 L566.2,583.0 L568.4,584.2 L570.7,585.4 L572.9,586.6 L575.2,587.8 L577.4,589.0 L579.7,590.1 L581.9,591.2 L584.2,592.3 L586.4,593.3 L588.7,594.3 L590.9,595.2 L593.2,596.2 L595.4,597.1 L597.7,598.0 L599.9,598.9 L602.2,599.8 L604.4,600.6 L606.7,601.5 L608.9,602.3 L611.2,603.2 L613.4,604.0 L615.7,604.8 L618.0,605.7 L620.2,606.5 L622.5,607.3 L624.7,608.1 L627.0,608.9 L629.2,609.7 L631.5,610.5 L633.7,611.3 L636.0,612.0 L638.2,612.8 L640.5,613.5 L642.7,614.2 L645.0,614.9 L647.2,615.6 L649.5,616.3 L651.7,616.9 L654.0,617.5 L656.2,618.1 L658.5,618.7 L660.7,619.3 L663.0,619.9 L665.2,620.4 L667.5,621.0 L669.7,621.6 L672.0,622.1 L674.2,622.7 L676.5,623.3 L678.7,623.8 L681.0,624.4 L683.2,625.0 L685.5,625.6 L687.7,626.2 L690.0,626.8 L692.2,627.5 L694.5,628.1 L696.7,628.7 L699.0,629.3 L701.2,629.9 L703.5,630.4 L705.7,631.0 L708.0,631.6 L710.2,632.1 L712.5,632.6 L714.7,633.1 L717.0,633.6 L719.2,634.1 L721.5,634.6 L723.7,635.0 L726.0,635.5 L728.2,636.0 L730.5,636.4 L732.7,636.8 L735.0,637.3 L737.2,637.7 L739.5,638.1 L741.7,638.5 L744.0,638.9 L746.3,639.3 L748.5,639.7 L750.8,640.1 L753.0,640.5 L755.3,640.8 L757.5,641.2 L759.8,641.6 L762.0,641.9 L764.3,642.3 L766.5,642.6 L768.8,643.0 L771.0,643.3 L773.3,643.6 L775.5,644.0 L777.8,644.3 L780.0,644.6 L782.3,645.0 L784.5,645.3 L786.8,645.6 L789.0,646.0 L791.3,646.3 L793.5,646.6 L795.8,646.9 L798.0,647.2 L800.3,647.5 L802.5,647.8 L804.8,648.1 L807.0,648.4 L809.3,648.7 L811.5,649.0 L813.8,649.3 L816.0,649.6 L818.3,649.8 L820.5,650.1 L822.8,650.4 L825.0,650.7 L827.3,650.9 L829.5,651.2 L831.8,651.5 L834.0,651.7 L836.3,652.0 L838.5,652.2 L840.8,652.5 L843.0,652.7 L845.3,653.0 L847.5,653.2 L849.8,653.4 L852.0,653.6 L854.3,653.9 L856.5,654.1 L858.8,654.3 L861.0,654.5 L863.3,654.7 L865.5,655.0 L867.8,655.2 L870.0,655.4 L872.3,655.6 L874.6,655.9 L876.8,656.1 L879.1,656.3 L881.3,656.6 L883.6,656.8 L885.8,657.1 L888.1,657.3 L890.3,657.5 L892.6,657.8 L894.8,658.0 L897.1,658.2 L899.3,658.4 L901.6,658.6 L903.8,658.8 L906.1,659.0 L908.3,659.1 L910.6,659.3 L912.8,659.4 L915.1,659.6 L917.3,659.7 L919.6,659.8 L921.8,659.9 L924.1,660.1 L926.3,660.2 L928.6,660.3 L930.8,660.4 L933.1,660.6 L935.3,660.7 L937.6,660.8 L939.8,661.0 L942.1,661.1 L944.3,661.3 L946.6,661.4 L948.8,661.6 L951.1,661.7 L953.3,661.8 L955.6,662.0 L957.8,662.1 L960.1,662.2 L962.3,662.4 L964.6,662.5 L966.8,662.6 L969.1,662.7 L971.3,662.8 L973.6,662.9 L975.8,663.0 L978.1,663.1 L980.3,663.2 L982.6,663.3 L984.8,663.4 L987.1,663.5 L989.3,663.6 L991.6,663.7 L993.8,663.8 L996.1,663.8 L998.3,663.9 L1000.6,664.0" fill="none" stroke="#65482e" stroke-width="5.5" stroke-dasharray="6 11.5"/>
</g>
<text x="84.0" y="688.1" font-size="31" font-family="Liberation Serif, serif" fill="#666" stroke="#666" stroke-width="0.7" textLength="13" lengthAdjust="spacingAndGlyphs">0</text>
<text x="64.0" y="558.5" font-size="31" font-family="Liberation Serif, serif" fill="#666" stroke="#666" stroke-width="0.7" textLength="33" lengthAdjust="spacingAndGlyphs">0.2</text>
<text x="64.0" y="431.0" font-size="31" font-family="Liberation Serif, serif" fill="#666" stroke="#666" stroke-width="0.7" textLength="33" lengthAdjust="spacingAndGlyphs">0.4</text>
<text x="64.0" y="299.5" font-size="31" font-family="Liberation Serif, serif" fill="#666" stroke="#666" stroke-width="0.7" textLength="33" lengthAdjust="spacingAndGlyphs">0.6</text>
<text x="64.0" y="173.5" font-size="31" font-family="Liberation Serif, serif" fill="#666" stroke="#666" stroke-width="0.7" textLength="33" lengthAdjust="spacingAndGlyphs">0.8</text>
<text x="102.5" y="710.5" font-size="31" font-family="Liberation Serif, serif" fill="#666" stroke="#666" stroke-width="0.7" textLength="13" lengthAdjust="spacingAndGlyphs">0</text>
<text x="356.5" y="710.5" font-size="31" font-family="Liberation Serif, serif" fill="#666" stroke="#666" stroke-width="0.7" textLength="13" lengthAdjust="spacingAndGlyphs">2</text>
<text x="615.5" y="710.5" font-size="31" font-family="Liberation Serif, serif" fill="#666" stroke="#666" stroke-width="0.7" textLength="13" lengthAdjust="spacingAndGlyphs">4</text>
<text x="870.5" y="710.5" font-size="31" font-family="Liberation Serif, serif" fill="#666" stroke="#666" stroke-width="0.7" textLength="13" lengthAdjust="spacingAndGlyphs">6</text>
<text x="556" y="759" text-anchor="middle" font-size="32" fill="#555" font-family="Liberation Serif, serif" font-weight="bold">y</text>
<text transform="translate(35,347) rotate(-90)" text-anchor="middle" font-size="43" fill="#3a3a3a" stroke="#3a3a3a" stroke-width="1.2" font-family="Liberation Serif, serif" textLength="102" lengthAdjust="spacingAndGlyphs">u(y,t)</text>
<text x="318" y="119.5" font-size="38" fill="#333" font-family="Liberation Serif, serif" font-weight="bold" textLength="94" lengthAdjust="spacingAndGlyphs">t=2.6</text>
<rect x="721.7" y="52.5" width="257.3" height="284.8" fill="#fff" stroke="#7e7e7e" stroke-width="4.5"/>
<rect x="725.5" y="66.5" width="18" height="19" rx="4.5" fill="#ff1010"/>
<rect x="746.5" y="66.5" width="18" height="19" rx="4.5" fill="#ff1010"/>
<rect x="767.5" y="66.5" width="18" height="19" rx="4.5" fill="#ff1010"/>
<text x="799" y="87.5" font-size="40" fill="#333" font-family="Liberation Serif, serif" font-weight="bold" textLength="74" lengthAdjust="spacingAndGlyphs">M=5</text>
<line x1="726" y1="122" x2="787" y2="122" stroke="#0a0aff" stroke-width="5"/>
<path d="M735.0,112.8 L742.2,122.0 L735.0,131.2 L727.8,122.0Z" fill="#0a0aff"/>
<path d="M756.0,112.8 L763.2,122.0 L756.0,131.2 L748.8,122.0Z" fill="#0a0aff"/>
<path d="M777.0,112.8 L784.2,122.0 L777.0,131.2 L769.8,122.0Z" fill="#0a0aff"/>
<text x="799" y="133.5" font-size="40" fill="#333" font-family="Liberation Serif, serif" font-weight="bold" textLength="74" lengthAdjust="spacingAndGlyphs">M=2</text>
<line x1="726" y1="169" x2="787" y2="169" stroke="#14f014" stroke-width="5"/>
<circle cx="735" cy="169" r="8.5" fill="#14f014"/>
<circle cx="756" cy="169" r="8.5" fill="#14f014"/>
<circle cx="777" cy="169" r="8.5" fill="#14f014"/>
<text x="799" y="180.5" font-size="40" fill="#333" font-family="Liberation Serif, serif" font-weight="bold" textLength="72" lengthAdjust="spacingAndGlyphs">M=1</text>
<line x1="726" y1="216.7" x2="787" y2="216.7" stroke="#ff10ff" stroke-width="5"/>
<path d="M735,208.7 L745,224.7 L725,224.7Z" fill="#ff10ff"/>
<path d="M756,208.7 L766,224.7 L746,224.7Z" fill="#ff10ff"/>
<path d="M777,208.7 L787,224.7 L767,224.7Z" fill="#ff10ff"/>
<text x="799" y="228.2" font-size="40" fill="#333" font-family="Liberation Serif, serif" font-weight="bold" textLength="103" lengthAdjust="spacingAndGlyphs">M=0.4</text>
<line x1="724" y1="265.7" x2="788" y2="265.7" stroke="#30f2f2" stroke-width="15"/>
<rect x="731" y="261.7" width="8" height="8" fill="#b8f8f8"/>
<rect x="752" y="261.7" width="8" height="8" fill="#b8f8f8"/>
<rect x="773" y="261.7" width="8" height="8" fill="#b8f8f8"/>
<text x="799" y="275.2" font-size="40" fill="#333" font-family="Liberation Serif, serif" font-weight="bold" textLength="159" lengthAdjust="spacingAndGlyphs">M=0.0001</text>
<line x1="729" y1="311.6" x2="790" y2="311.6" stroke="#8a5a30" stroke-width="6" stroke-dasharray="6.5 12.5"/>
<text x="799" y="322.1" font-size="40" fill="#333" font-family="Liberation Serif, serif" font-weight="bold" textLength="74" lengthAdjust="spacingAndGlyphs">M=0</text>
<rect x="115" y="788" width="26.5" height="25.5" fill="#e8101c"/>
<path d="M168,786.5 L181,801 L168,815 L155,801Z" fill="#3535c8"/>
<ellipse cx="207.2" cy="803.8" rx="12.2" ry="13" fill="#10bb40"/>
<path d="M246,789.5 L260.3,809 L231.5,809Z" fill="#f5a8c0"/>
<rect x="276" y="791.5" width="27.5" height="18.5" fill="none" stroke="#b8f4f0" stroke-width="4"/>
<line x1="160.5" y1="852" x2="243.6" y2="852" stroke="#c06a8a" stroke-width="4"/>
<text x="355.5" y="811.5" font-size="37" fill="#262626" font-family="Liberation Serif, serif" font-weight="bold" textLength="109" lengthAdjust="spacingAndGlyphs">Sehra</text>
<text x="322.3" y="852" font-size="39" fill="#262626" font-family="Liberation Serif, serif" font-weight="bold" textLength="287" lengthAdjust="spacingAndGlyphs">Shah and Khan</text>
<text x="612.5" y="832" font-size="38" fill="#1a1a1a" font-family="Liberation Serif, serif" font-weight="bold" textLength="41" lengthAdjust="spacingAndGlyphs">16</text>
<rect x="1138.2" y="19.6" width="827.4" height="665.9" fill="none" stroke="#878787" stroke-width="3"/>
<line x1="1138.2" y1="519.0" x2="1148" y2="519.0" stroke="#878787" stroke-width="2.5"/>
<line x1="1965.6" y1="519.0" x2="1956" y2="519.0" stroke="#878787" stroke-width="2.5"/>
<line x1="1138.2" y1="352.5" x2="1148" y2="352.5" stroke="#878787" stroke-width="2.5"/>
<line x1="1965.6" y1="352.5" x2="1956" y2="352.5" stroke="#878787" stroke-width="2.5"/>
<line x1="1138.2" y1="186.0" x2="1148" y2="186.0" stroke="#878787" stroke-width="2.5"/>
<line x1="1965.6" y1="186.0" x2="1956" y2="186.0" stroke="#878787" stroke-width="2.5"/>
<line x1="1414.0" y1="19.6" x2="1414.0" y2="29" stroke="#878787" stroke-width="2.5"/>
<line x1="1414.0" y1="685.5" x2="1414.0" y2="676" stroke="#878787" stroke-width="2.5"/>
<line x1="1689.8" y1="19.6" x2="1689.8" y2="29" stroke="#878787" stroke-width="2.5"/>
<line x1="1689.8" y1="685.5" x2="1689.8" y2="676" stroke="#878787" stroke-width="2.5"/>
<g clip-path="url(#cr)">
<rect x="1536" y="366" width="10" height="46" fill="#fcfde0"/>
<path d="M1138.2,531.3 L1140.3,535.1 L1142.3,538.8 L1144.4,542.4 L1146.5,545.9 L1148.6,549.3 L1150.6,552.6 L1152.7,555.9 L1154.8,559.1 L1156.9,562.2 L1158.9,565.2 L1161.0,568.1 L1163.1,571.0 L1165.2,573.8 L1167.2,576.6 L1169.3,579.2 L1171.4,581.8 L1173.5,584.4 L1175.5,586.9 L1177.6,589.3 L1179.7,591.6 L1181.7,593.9 L1183.8,596.2 L1185.9,598.4 L1188.0,600.5 L1190.0,602.6 L1192.1,604.6 L1194.2,606.6 L1196.3,608.5 L1198.3,610.4 L1200.4,612.3 L1202.5,614.1 L1204.6,615.8 L1206.6,617.5 L1208.7,619.2 L1210.8,620.8 L1212.9,622.4 L1214.9,623.9 L1217.0,625.4 L1219.1,626.9 L1221.1,628.4 L1223.2,629.8 L1225.3,631.1 L1227.4,632.5 L1229.4,633.8 L1231.5,635.0 L1233.6,636.3 L1235.7,637.5 L1237.7,638.6 L1239.8,639.8 L1241.9,640.9 L1244.0,642.0 L1246.0,643.1 L1248.1,644.1 L1250.2,645.1 L1252.3,646.1 L1254.3,647.1 L1256.4,648.0 L1258.5,648.9 L1260.5,649.8 L1262.6,650.7 L1264.7,651.6 L1266.8,652.4 L1268.8,653.2 L1270.9,654.0 L1273.0,654.8 L1275.1,655.5 L1277.1,656.3 L1279.2,657.0 L1281.3,657.7 L1283.4,658.4 L1285.4,659.0 L1287.5,659.7 L1289.6,660.3 L1291.7,660.9 L1293.7,661.5 L1295.8,662.1 L1297.9,662.7 L1299.9,663.2 L1302.0,663.8 L1304.1,664.3 L1306.2,664.8 L1308.2,665.3 L1310.3,665.8 L1312.4,666.3 L1314.5,666.8 L1316.5,667.2 L1318.6,667.7 L1320.7,668.1 L1322.8,668.6 L1324.8,669.0 L1326.9,669.4 L1329.0,669.8 L1331.1,670.2 L1333.1,670.5 L1335.2,670.9 L1337.3,671.3 L1339.3,671.6 L1341.4,671.9 L1343.5,672.3 L1345.6,672.6 L1347.6,672.9 L1349.7,673.2 L1351.8,673.5 L1353.9,673.8 L1355.9,674.1 L1358.0,674.4 L1360.1,674.7 L1362.2,674.9 L1364.2,675.2 L1366.3,675.4 L1368.4,675.7 L1370.5,675.9 L1372.5,676.2 L1374.6,676.4 L1376.7,676.6 L1378.7,676.8 L1380.8,677.0 L1382.9,677.2 L1385.0,677.5 L1387.0,677.6 L1389.1,677.8 L1391.2,678.0 L1393.3,678.2 L1395.3,678.4 L1397.4,678.6 L1399.5,678.7 L1401.6,678.9 L1403.6,679.1 L1405.7,679.2 L1407.8,679.4 L1409.9,679.5 L1411.9,679.7 L1414.0,679.8 L1416.1,680.0 L1418.1,680.1 L1420.2,680.2 L1422.3,680.4 L1424.4,680.5 L1426.4,680.6 L1428.5,680.7 L1430.6,680.8 L1432.7,681.0 L1434.7,681.1 L1436.8,681.2 L1438.9,681.3 L1441.0,681.4 L1443.0,681.5 L1445.1,681.6 L1447.2,681.7 L1449.3,681.8 L1451.3,681.9 L1453.4,682.0 L1455.5,682.0 L1457.5,682.1 L1459.6,682.2 L1461.7,682.3 L1463.8,682.4 L1465.8,682.4 L1467.9,682.5 L1470.0,682.6 L1472.1,682.7 L1474.1,682.7 L1476.2,682.8 L1478.3,682.9 L1480.4,682.9 L1482.4,683.0 L1484.5,683.1 L1486.6,683.1 L1488.7,683.2 L1490.7,683.2 L1492.8,683.3 L1494.9,683.3 L1496.9,683.4 L1499.0,683.4 L1501.1,683.5 L1503.2,683.5 L1505.2,683.6 L1507.3,683.6 L1509.4,683.7 L1511.5,683.7 L1513.5,683.8 L1515.6,683.8 L1517.7,683.9 L1519.8,683.9 L1521.8,683.9 L1523.9,684.0 L1526.0,684.0 L1528.1,684.0 L1530.1,684.1 L1532.2,684.1 L1534.3,684.2 L1536.3,684.2 L1538.4,684.2 L1540.5,684.2 L1542.6,684.3 L1544.6,684.3 L1546.7,684.3 L1548.8,684.4 L1550.9,684.4 L1552.9,684.4 L1555.0,684.4 L1557.1,684.5 L1559.2,684.5 L1561.2,684.5 L1563.3,684.5 L1565.4,684.6 L1567.5,684.6 L1569.5,684.6 L1571.6,684.6 L1573.7,684.7 L1575.7,684.7 L1577.8,684.7 L1579.9,684.7 L1582.0,684.7 L1584.0,684.8 L1586.1,684.8 L1588.2,684.8 L1590.3,684.8 L1592.3,684.8 L1594.4,684.8 L1596.5,684.9 L1598.6,684.9 L1600.6,684.9 L1602.7,684.9 L1604.8,684.9 L1606.9,684.9 L1608.9,684.9 L1611.0,685.0 L1613.1,685.0 L1615.1,685.0 L1617.2,685.0 L1619.3,685.0 L1621.4,685.0 L1623.4,685.0 L1625.5,685.0 L1627.6,685.1 L1629.7,685.1 L1631.7,685.1 L1633.8,685.1 L1635.9,685.1 L1638.0,685.1 L1640.0,685.1 L1642.1,685.1 L1644.2,685.1 L1646.3,685.1 L1648.3,685.2 L1650.4,685.2 L1652.5,685.2 L1654.5,685.2 L1656.6,685.2 L1658.7,685.2 L1660.8,685.2 L1662.8,685.2 L1664.9,685.2 L1667.0,685.2 L1669.1,685.2 L1671.1,685.2 L1673.2,685.2 L1675.3,685.3 L1677.4,685.3 L1679.4,685.3 L1681.5,685.3 L1683.6,685.3 L1685.7,685.3 L1687.7,685.3 L1689.8,685.3 L1691.9,685.3 L1693.9,685.3 L1696.0,685.3 L1698.1,685.3 L1700.2,685.3 L1702.2,685.3 L1704.3,685.3 L1706.4,685.3 L1708.5,685.3 L1710.5,685.3 L1712.6,685.3 L1714.7,685.3 L1716.8,685.3 L1718.8,685.4 L1720.9,685.4 L1723.0,685.4 L1725.1,685.4 L1727.1,685.4 L1729.2,685.4 L1731.3,685.4 L1733.3,685.4 L1735.4,685.4 L1737.5,685.4 L1739.6,685.4 L1741.6,685.4 L1743.7,685.4 L1745.8,685.4 L1747.9,685.4 L1749.9,685.4 L1752.0,685.4 L1754.1,685.4 L1756.2,685.4 L1758.2,685.4 L1760.3,685.4 L1762.4,685.4 L1764.5,685.4 L1766.5,685.4 L1768.6,685.4 L1770.7,685.4 L1772.7,685.4 L1774.8,685.4 L1776.9,685.4 L1779.0,685.4 L1781.0,685.4 L1783.1,685.4 L1785.2,685.4 L1787.3,685.4 L1789.3,685.4 L1791.4,685.4 L1793.5,685.4 L1795.6,685.4 L1797.6,685.4 L1799.7,685.4 L1801.8,685.4 L1803.9,685.4 L1805.9,685.4 L1808.0,685.4 L1810.1,685.5 L1812.1,685.5 L1814.2,685.5 L1816.3,685.5 L1818.4,685.5 L1820.4,685.5 L1822.5,685.5 L1824.6,685.5 L1826.7,685.5 L1828.7,685.5 L1830.8,685.5 L1832.9,685.5 L1835.0,685.5 L1837.0,685.5 L1839.1,685.5 L1841.2,685.5 L1843.3,685.5 L1845.3,685.5 L1847.4,685.5 L1849.5,685.5 L1851.5,685.5 L1853.6,685.5 L1855.7,685.5 L1857.8,685.5 L1859.8,685.5 L1861.9,685.5 L1864.0,685.5 L1866.1,685.5 L1868.1,685.5 L1870.2,685.5 L1872.3,685.5 L1874.4,685.5 L1876.4,685.5 L1878.5,685.5 L1880.6,685.5 L1882.7,685.5 L1884.7,685.5 L1886.8,685.5 L1888.9,685.5 L1890.9,685.5 L1893.0,685.5 L1895.1,685.5 L1897.2,685.5 L1899.2,685.5 L1901.3,685.5 L1903.4,685.5 L1905.5,685.5 L1907.5,685.5 L1909.6,685.5 L1911.7,685.5 L1913.8,685.5 L1915.8,685.5 L1917.9,685.5 L1920.0,685.5 L1922.1,685.5 L1924.1,685.5 L1926.2,685.5 L1928.3,685.5 L1930.3,685.5 L1932.4,685.5 L1934.5,685.5 L1936.6,685.5 L1938.6,685.5 L1940.7,685.5 L1942.8,685.5 L1944.9,685.5 L1946.9,685.5 L1949.0,685.5 L1951.1,685.5 L1953.2,685.5 L1955.2,685.5 L1957.3,685.5 L1959.4,685.5 L1961.5,685.5 L1963.5,685.5 L1965.6,685.5" fill="none" stroke="#ff1010" stroke-width="3.5" stroke-linejoin="round"/>
<rect x="1201.7" y="612.4" width="11" height="11" fill="#ff1010"/>
<rect x="1270.6" y="650.4" width="11" height="11" fill="#ff1010"/>
<rect x="1339.6" y="667.0" width="11" height="11" fill="#ff1010"/>
<rect x="1408.5" y="674.3" width="11" height="11" fill="#ff1010"/>
<rect x="1477.5" y="677.5" width="11" height="11" fill="#ff1010"/>
<rect x="1546.4" y="678.9" width="11" height="11" fill="#ff1010"/>
<rect x="1615.4" y="679.5" width="11" height="11" fill="#ff1010"/>
<rect x="1684.3" y="679.8" width="11" height="11" fill="#ff1010"/>
<rect x="1753.2" y="679.9" width="11" height="11" fill="#ff1010"/>
<rect x="1822.2" y="680.0" width="11" height="11" fill="#ff1010"/>
<rect x="1891.2" y="680.0" width="11" height="11" fill="#ff1010"/>
<rect x="1960.1" y="680.0" width="11" height="11" fill="#ff1010"/>
<path d="M1138.2,499.7 L1140.3,503.5 L1142.3,507.3 L1144.4,511.0 L1146.5,514.6 L1148.6,518.1 L1150.6,521.6 L1152.7,525.0 L1154.8,528.3 L1156.9,531.6 L1158.9,534.7 L1161.0,537.9 L1163.1,540.9 L1165.2,543.9 L1167.2,546.8 L1169.3,549.7 L1171.4,552.5 L1173.5,555.3 L1175.5,558.0 L1177.6,560.6 L1179.7,563.2 L1181.7,565.7 L1183.8,568.2 L1185.9,570.6 L1188.0,573.0 L1190.0,575.3 L1192.1,577.6 L1194.2,579.8 L1196.3,582.0 L1198.3,584.1 L1200.4,586.2 L1202.5,588.3 L1204.6,590.3 L1206.6,592.3 L1208.7,594.2 L1210.8,596.1 L1212.9,597.9 L1214.9,599.8 L1217.0,601.5 L1219.1,603.3 L1221.1,605.0 L1223.2,606.6 L1225.3,608.3 L1227.4,609.9 L1229.4,611.4 L1231.5,613.0 L1233.6,614.5 L1235.7,615.9 L1237.7,617.4 L1239.8,618.8 L1241.9,620.2 L1244.0,621.5 L1246.0,622.8 L1248.1,624.1 L1250.2,625.4 L1252.3,626.6 L1254.3,627.9 L1256.4,629.1 L1258.5,630.2 L1260.5,631.4 L1262.6,632.5 L1264.7,633.6 L1266.8,634.7 L1268.8,635.7 L1270.9,636.7 L1273.0,637.7 L1275.1,638.7 L1277.1,639.7 L1279.2,640.6 L1281.3,641.6 L1283.4,642.5 L1285.4,643.4 L1287.5,644.2 L1289.6,645.1 L1291.7,645.9 L1293.7,646.8 L1295.8,647.6 L1297.9,648.3 L1299.9,649.1 L1302.0,649.9 L1304.1,650.6 L1306.2,651.3 L1308.2,652.0 L1310.3,652.7 L1312.4,653.4 L1314.5,654.1 L1316.5,654.7 L1318.6,655.3 L1320.7,656.0 L1322.8,656.6 L1324.8,657.2 L1326.9,657.8 L1329.0,658.3 L1331.1,658.9 L1333.1,659.5 L1335.2,660.0 L1337.3,660.5 L1339.3,661.0 L1341.4,661.5 L1343.5,662.0 L1345.6,662.5 L1347.6,663.0 L1349.7,663.5 L1351.8,663.9 L1353.9,664.4 L1355.9,664.8 L1358.0,665.2 L1360.1,665.6 L1362.2,666.1 L1364.2,666.5 L1366.3,666.9 L1368.4,667.2 L1370.5,667.6 L1372.5,668.0 L1374.6,668.4 L1376.7,668.7 L1378.7,669.1 L1380.8,669.4 L1382.9,669.7 L1385.0,670.1 L1387.0,670.4 L1389.1,670.7 L1391.2,671.0 L1393.3,671.3 L1395.3,671.6 L1397.4,671.9 L1399.5,672.2 L1401.6,672.4 L1403.6,672.7 L1405.7,673.0 L1407.8,673.2 L1409.9,673.5 L1411.9,673.7 L1414.0,674.0 L1416.1,674.2 L1418.1,674.4 L1420.2,674.7 L1422.3,674.9 L1424.4,675.1 L1426.4,675.3 L1428.5,675.5 L1430.6,675.7 L1432.7,675.9 L1434.7,676.1 L1436.8,676.3 L1438.9,676.5 L1441.0,676.7 L1443.0,676.9 L1445.1,677.1 L1447.2,677.2 L1449.3,677.4 L1451.3,677.6 L1453.4,677.8 L1455.5,677.9 L1457.5,678.1 L1459.6,678.2 L1461.7,678.4 L1463.8,678.5 L1465.8,678.7 L1467.9,678.8 L1470.0,678.9 L1472.1,679.1 L1474.1,679.2 L1476.2,679.3 L1478.3,679.5 L1480.4,679.6 L1482.4,679.7 L1484.5,679.8 L1486.6,680.0 L1488.7,680.1 L1490.7,680.2 L1492.8,680.3 L1494.9,680.4 L1496.9,680.5 L1499.0,680.6 L1501.1,680.7 L1503.2,680.8 L1505.2,680.9 L1507.3,681.0 L1509.4,681.1 L1511.5,681.2 L1513.5,681.3 L1515.6,681.4 L1517.7,681.4 L1519.8,681.5 L1521.8,681.6 L1523.9,681.7 L1526.0,681.8 L1528.1,681.8 L1530.1,681.9 L1532.2,682.0 L1534.3,682.1 L1536.3,682.1 L1538.4,682.2 L1540.5,682.3 L1542.6,682.3 L1544.6,682.4 L1546.7,682.5 L1548.8,682.5 L1550.9,682.6 L1552.9,682.7 L1555.0,682.7 L1557.1,682.8 L1559.2,682.8 L1561.2,682.9 L1563.3,682.9 L1565.4,683.0 L1567.5,683.0 L1569.5,683.1 L1571.6,683.1 L1573.7,683.2 L1575.7,683.2 L1577.8,683.3 L1579.9,683.3 L1582.0,683.4 L1584.0,683.4 L1586.1,683.5 L1588.2,683.5 L1590.3,683.5 L1592.3,683.6 L1594.4,683.6 L1596.5,683.7 L1598.6,683.7 L1600.6,683.7 L1602.7,683.8 L1604.8,683.8 L1606.9,683.8 L1608.9,683.9 L1611.0,683.9 L1613.1,684.0 L1615.1,684.0 L1617.2,684.0 L1619.3,684.0 L1621.4,684.1 L1623.4,684.1 L1625.5,684.1 L1627.6,684.2 L1629.7,684.2 L1631.7,684.2 L1633.8,684.2 L1635.9,684.3 L1638.0,684.3 L1640.0,684.3 L1642.1,684.3 L1644.2,684.4 L1646.3,684.4 L1648.3,684.4 L1650.4,684.4 L1652.5,684.5 L1654.5,684.5 L1656.6,684.5 L1658.7,684.5 L1660.8,684.5 L1662.8,684.6 L1664.9,684.6 L1667.0,684.6 L1669.1,684.6 L1671.1,684.6 L1673.2,684.7 L1675.3,684.7 L1677.4,684.7 L1679.4,684.7 L1681.5,684.7 L1683.6,684.7 L1685.7,684.8 L1687.7,684.8 L1689.8,684.8 L1691.9,684.8 L1693.9,684.8 L1696.0,684.8 L1698.1,684.8 L1700.2,684.9 L1702.2,684.9 L1704.3,684.9 L1706.4,684.9 L1708.5,684.9 L1710.5,684.9 L1712.6,684.9 L1714.7,684.9 L1716.8,685.0 L1718.8,685.0 L1720.9,685.0 L1723.0,685.0 L1725.1,685.0 L1727.1,685.0 L1729.2,685.0 L1731.3,685.0 L1733.3,685.0 L1735.4,685.0 L1737.5,685.1 L1739.6,685.1 L1741.6,685.1 L1743.7,685.1 L1745.8,685.1 L1747.9,685.1 L1749.9,685.1 L1752.0,685.1 L1754.1,685.1 L1756.2,685.1 L1758.2,685.1 L1760.3,685.1 L1762.4,685.2 L1764.5,685.2 L1766.5,685.2 L1768.6,685.2 L1770.7,685.2 L1772.7,685.2 L1774.8,685.2 L1776.9,685.2 L1779.0,685.2 L1781.0,685.2 L1783.1,685.2 L1785.2,685.2 L1787.3,685.2 L1789.3,685.2 L1791.4,685.2 L1793.5,685.2 L1795.6,685.3 L1797.6,685.3 L1799.7,685.3 L1801.8,685.3 L1803.9,685.3 L1805.9,685.3 L1808.0,685.3 L1810.1,685.3 L1812.1,685.3 L1814.2,685.3 L1816.3,685.3 L1818.4,685.3 L1820.4,685.3 L1822.5,685.3 L1824.6,685.3 L1826.7,685.3 L1828.7,685.3 L1830.8,685.3 L1832.9,685.3 L1835.0,685.3 L1837.0,685.3 L1839.1,685.3 L1841.2,685.3 L1843.3,685.3 L1845.3,685.4 L1847.4,685.4 L1849.5,685.4 L1851.5,685.4 L1853.6,685.4 L1855.7,685.4 L1857.8,685.4 L1859.8,685.4 L1861.9,685.4 L1864.0,685.4 L1866.1,685.4 L1868.1,685.4 L1870.2,685.4 L1872.3,685.4 L1874.4,685.4 L1876.4,685.4 L1878.5,685.4 L1880.6,685.4 L1882.7,685.4 L1884.7,685.4 L1886.8,685.4 L1888.9,685.4 L1890.9,685.4 L1893.0,685.4 L1895.1,685.4 L1897.2,685.4 L1899.2,685.4 L1901.3,685.4 L1903.4,685.4 L1905.5,685.4 L1907.5,685.4 L1909.6,685.4 L1911.7,685.4 L1913.8,685.4 L1915.8,685.4 L1917.9,685.4 L1920.0,685.4 L1922.1,685.4 L1924.1,685.4 L1926.2,685.4 L1928.3,685.4 L1930.3,685.4 L1932.4,685.4 L1934.5,685.4 L1936.6,685.4 L1938.6,685.4 L1940.7,685.4 L1942.8,685.4 L1944.9,685.4 L1946.9,685.4 L1949.0,685.4 L1951.1,685.4 L1953.2,685.4 L1955.2,685.5 L1957.3,685.5 L1959.4,685.5 L1961.5,685.5 L1963.5,685.5 L1965.6,685.5" fill="none" stroke="#0a0aff" stroke-width="3.5" stroke-linejoin="round"/>
<path d="M1207.2,586.4 L1212.1,592.8 L1207.2,599.1 L1202.2,592.8Z" fill="#0a0aff"/>
<path d="M1276.1,632.9 L1281.1,639.2 L1276.1,645.5 L1271.2,639.2Z" fill="#0a0aff"/>
<path d="M1345.1,656.1 L1350.0,662.4 L1345.1,668.7 L1340.1,662.4Z" fill="#0a0aff"/>
<path d="M1414.0,667.6 L1419.0,674.0 L1414.0,680.3 L1409.0,674.0Z" fill="#0a0aff"/>
<path d="M1483.0,673.4 L1487.9,679.7 L1483.0,686.1 L1478.0,679.7Z" fill="#0a0aff"/>
<path d="M1551.9,676.3 L1556.9,682.6 L1551.9,689.0 L1547.0,682.6Z" fill="#0a0aff"/>
<path d="M1620.9,677.7 L1625.8,684.1 L1620.9,690.4 L1615.9,684.1Z" fill="#0a0aff"/>
<path d="M1689.8,678.5 L1694.8,684.8 L1689.8,691.1 L1684.9,684.8Z" fill="#0a0aff"/>
<path d="M1758.8,678.8 L1763.7,685.1 L1758.8,691.5 L1753.8,685.1Z" fill="#0a0aff"/>
<path d="M1827.7,679.0 L1832.7,685.3 L1827.7,691.6 L1822.8,685.3Z" fill="#0a0aff"/>
<path d="M1896.7,679.1 L1901.6,685.4 L1896.7,691.7 L1891.7,685.4Z" fill="#0a0aff"/>
<path d="M1965.6,679.1 L1970.6,685.5 L1965.6,691.8 L1960.7,685.5Z" fill="#0a0aff"/>
<path d="M1138.2,429.8 L1140.3,434.1 L1142.3,438.4 L1144.4,442.6 L1146.5,446.8 L1148.6,450.9 L1150.6,454.9 L1152.7,458.8 L1154.8,462.7 L1156.9,466.5 L1158.9,470.2 L1161.0,473.9 L1163.1,477.5 L1165.2,481.0 L1167.2,484.5 L1169.3,488.0 L1171.4,491.3 L1173.5,494.7 L1175.5,497.9 L1177.6,501.1 L1179.7,504.3 L1181.7,507.4 L1183.8,510.4 L1185.9,513.4 L1188.0,516.3 L1190.0,519.2 L1192.1,522.0 L1194.2,524.8 L1196.3,527.6 L1198.3,530.3 L1200.4,532.9 L1202.5,535.5 L1204.6,538.1 L1206.6,540.6 L1208.7,543.1 L1210.8,545.5 L1212.9,547.9 L1214.9,550.3 L1217.0,552.6 L1219.1,554.8 L1221.1,557.1 L1223.2,559.3 L1225.3,561.4 L1227.4,563.5 L1229.4,565.6 L1231.5,567.7 L1233.6,569.7 L1235.7,571.6 L1237.7,573.6 L1239.8,575.5 L1241.9,577.4 L1244.0,579.2 L1246.0,581.0 L1248.1,582.8 L1250.2,584.6 L1252.3,586.3 L1254.3,588.0 L1256.4,589.7 L1258.5,591.3 L1260.5,592.9 L1262.6,594.5 L1264.7,596.0 L1266.8,597.6 L1268.8,599.1 L1270.9,600.5 L1273.0,602.0 L1275.1,603.4 L1277.1,604.8 L1279.2,606.2 L1281.3,607.5 L1283.4,608.9 L1285.4,610.2 L1287.5,611.5 L1289.6,612.7 L1291.7,614.0 L1293.7,615.2 L1295.8,616.4 L1297.9,617.6 L1299.9,618.7 L1302.0,619.9 L1304.1,621.0 L1306.2,622.1 L1308.2,623.2 L1310.3,624.2 L1312.4,625.3 L1314.5,626.3 L1316.5,627.3 L1318.6,628.3 L1320.7,629.3 L1322.8,630.3 L1324.8,631.2 L1326.9,632.1 L1329.0,633.0 L1331.1,633.9 L1333.1,634.8 L1335.2,635.7 L1337.3,636.5 L1339.3,637.4 L1341.4,638.2 L1343.5,639.0 L1345.6,639.8 L1347.6,640.6 L1349.7,641.3 L1351.8,642.1 L1353.9,642.8 L1355.9,643.6 L1358.0,644.3 L1360.1,645.0 L1362.2,645.7 L1364.2,646.3 L1366.3,647.0 L1368.4,647.7 L1370.5,648.3 L1372.5,649.0 L1374.6,649.6 L1376.7,650.2 L1378.7,650.8 L1380.8,651.4 L1382.9,652.0 L1385.0,652.5 L1387.0,653.1 L1389.1,653.7 L1391.2,654.2 L1393.3,654.7 L1395.3,655.3 L1397.4,655.8 L1399.5,656.3 L1401.6,656.8 L1403.6,657.3 L1405.7,657.8 L1407.8,658.2 L1409.9,658.7 L1411.9,659.2 L1414.0,659.6 L1416.1,660.0 L1418.1,660.5 L1420.2,660.9 L1422.3,661.3 L1424.4,661.7 L1426.4,662.1 L1428.5,662.5 L1430.6,662.9 L1432.7,663.3 L1434.7,663.7 L1436.8,664.1 L1438.9,664.4 L1441.0,664.8 L1443.0,665.1 L1445.1,665.5 L1447.2,665.8 L1449.3,666.2 L1451.3,666.5 L1453.4,666.8 L1455.5,667.1 L1457.5,667.5 L1459.6,667.8 L1461.7,668.1 L1463.8,668.4 L1465.8,668.7 L1467.9,668.9 L1470.0,669.2 L1472.1,669.5 L1474.1,669.8 L1476.2,670.0 L1478.3,670.3 L1480.4,670.6 L1482.4,670.8 L1484.5,671.1 L1486.6,671.3 L1488.7,671.6 L1490.7,671.8 L1492.8,672.0 L1494.9,672.3 L1496.9,672.5 L1499.0,672.7 L1501.1,672.9 L1503.2,673.1 L1505.2,673.4 L1507.3,673.6 L1509.4,673.8 L1511.5,674.0 L1513.5,674.2 L1515.6,674.4 L1517.7,674.6 L1519.8,674.7 L1521.8,674.9 L1523.9,675.1 L1526.0,675.3 L1528.1,675.5 L1530.1,675.6 L1532.2,675.8 L1534.3,676.0 L1536.3,676.1 L1538.4,676.3 L1540.5,676.4 L1542.6,676.6 L1544.6,676.7 L1546.7,676.9 L1548.8,677.0 L1550.9,677.2 L1552.9,677.3 L1555.0,677.5 L1557.1,677.6 L1559.2,677.7 L1561.2,677.9 L1563.3,678.0 L1565.4,678.1 L1567.5,678.3 L1569.5,678.4 L1571.6,678.5 L1573.7,678.6 L1575.7,678.7 L1577.8,678.9 L1579.9,679.0 L1582.0,679.1 L1584.0,679.2 L1586.1,679.3 L1588.2,679.4 L1590.3,679.5 L1592.3,679.6 L1594.4,679.7 L1596.5,679.8 L1598.6,679.9 L1600.6,680.0 L1602.7,680.1 L1604.8,680.2 L1606.9,680.3 L1608.9,680.4 L1611.0,680.5 L1613.1,680.5 L1615.1,680.6 L1617.2,680.7 L1619.3,680.8 L1621.4,680.9 L1623.4,680.9 L1625.5,681.0 L1627.6,681.1 L1629.7,681.2 L1631.7,681.3 L1633.8,681.3 L1635.9,681.4 L1638.0,681.5 L1640.0,681.5 L1642.1,681.6 L1644.2,681.7 L1646.3,681.7 L1648.3,681.8 L1650.4,681.9 L1652.5,681.9 L1654.5,682.0 L1656.6,682.0 L1658.7,682.1 L1660.8,682.2 L1662.8,682.2 L1664.9,682.3 L1667.0,682.3 L1669.1,682.4 L1671.1,682.4 L1673.2,682.5 L1675.3,682.5 L1677.4,682.6 L1679.4,682.6 L1681.5,682.7 L1683.6,682.7 L1685.7,682.8 L1687.7,682.8 L1689.8,682.9 L1691.9,682.9 L1693.9,683.0 L1696.0,683.0 L1698.1,683.1 L1700.2,683.1 L1702.2,683.1 L1704.3,683.2 L1706.4,683.2 L1708.5,683.3 L1710.5,683.3 L1712.6,683.3 L1714.7,683.4 L1716.8,683.4 L1718.8,683.4 L1720.9,683.5 L1723.0,683.5 L1725.1,683.5 L1727.1,683.6 L1729.2,683.6 L1731.3,683.6 L1733.3,683.7 L1735.4,683.7 L1737.5,683.7 L1739.6,683.8 L1741.6,683.8 L1743.7,683.8 L1745.8,683.9 L1747.9,683.9 L1749.9,683.9 L1752.0,683.9 L1754.1,684.0 L1756.2,684.0 L1758.2,684.0 L1760.3,684.0 L1762.4,684.1 L1764.5,684.1 L1766.5,684.1 L1768.6,684.1 L1770.7,684.2 L1772.7,684.2 L1774.8,684.2 L1776.9,684.2 L1779.0,684.2 L1781.0,684.3 L1783.1,684.3 L1785.2,684.3 L1787.3,684.3 L1789.3,684.4 L1791.4,684.4 L1793.5,684.4 L1795.6,684.4 L1797.6,684.4 L1799.7,684.4 L1801.8,684.5 L1803.9,684.5 L1805.9,684.5 L1808.0,684.5 L1810.1,684.5 L1812.1,684.6 L1814.2,684.6 L1816.3,684.6 L1818.4,684.6 L1820.4,684.6 L1822.5,684.6 L1824.6,684.6 L1826.7,684.7 L1828.7,684.7 L1830.8,684.7 L1832.9,684.7 L1835.0,684.7 L1837.0,684.7 L1839.1,684.7 L1841.2,684.8 L1843.3,684.8 L1845.3,684.8 L1847.4,684.8 L1849.5,684.8 L1851.5,684.8 L1853.6,684.8 L1855.7,684.8 L1857.8,684.8 L1859.8,684.9 L1861.9,684.9 L1864.0,684.9 L1866.1,684.9 L1868.1,684.9 L1870.2,684.9 L1872.3,684.9 L1874.4,684.9 L1876.4,684.9 L1878.5,685.0 L1880.6,685.0 L1882.7,685.0 L1884.7,685.0 L1886.8,685.0 L1888.9,685.0 L1890.9,685.0 L1893.0,685.0 L1895.1,685.0 L1897.2,685.0 L1899.2,685.0 L1901.3,685.0 L1903.4,685.1 L1905.5,685.1 L1907.5,685.1 L1909.6,685.1 L1911.7,685.1 L1913.8,685.1 L1915.8,685.1 L1917.9,685.1 L1920.0,685.1 L1922.1,685.1 L1924.1,685.1 L1926.2,685.1 L1928.3,685.1 L1930.3,685.1 L1932.4,685.2 L1934.5,685.2 L1936.6,685.2 L1938.6,685.2 L1940.7,685.2 L1942.8,685.2 L1944.9,685.2 L1946.9,685.2 L1949.0,685.2 L1951.1,685.2 L1953.2,685.2 L1955.2,685.2 L1957.3,685.2 L1959.4,685.2 L1961.5,685.2 L1963.5,685.2 L1965.6,685.2" fill="none" stroke="#14f014" stroke-width="3.5" stroke-linejoin="round"/>
<circle cx="1207.2" cy="541.2" r="5.5" fill="#14f014"/>
<circle cx="1276.1" cy="604.1" r="5.5" fill="#14f014"/>
<circle cx="1345.1" cy="639.6" r="5.5" fill="#14f014"/>
<circle cx="1414.0" cy="659.6" r="5.5" fill="#14f014"/>
<circle cx="1483.0" cy="670.9" r="5.5" fill="#14f014"/>
<circle cx="1551.9" cy="677.3" r="5.5" fill="#14f014"/>
<circle cx="1620.9" cy="680.9" r="5.5" fill="#14f014"/>
<circle cx="1689.8" cy="682.9" r="5.5" fill="#14f014"/>
<circle cx="1758.8" cy="684.0" r="5.5" fill="#14f014"/>
<circle cx="1827.7" cy="684.7" r="5.5" fill="#14f014"/>
<circle cx="1896.7" cy="685.0" r="5.5" fill="#14f014"/>
<circle cx="1965.6" cy="685.2" r="5.5" fill="#14f014"/>
<path d="M1138.2,249.3 L1140.3,255.3 L1142.3,261.2 L1144.4,267.1 L1146.5,272.9 L1148.6,278.6 L1150.6,284.2 L1152.7,289.7 L1154.8,295.2 L1156.9,300.6 L1158.9,305.9 L1161.0,311.2 L1163.1,316.3 L1165.2,321.4 L1167.2,326.5 L1169.3,331.4 L1171.4,336.3 L1173.5,341.1 L1175.5,345.9 L1177.6,350.6 L1179.7,355.2 L1181.7,359.8 L1183.8,364.3 L1185.9,368.7 L1188.0,373.1 L1190.0,377.4 L1192.1,381.7 L1194.2,385.9 L1196.3,390.0 L1198.3,394.1 L1200.4,398.1 L1202.5,402.1 L1204.6,406.0 L1206.6,409.8 L1208.7,413.7 L1210.8,417.4 L1212.9,421.1 L1214.9,424.8 L1217.0,428.4 L1219.1,431.9 L1221.1,435.4 L1223.2,438.9 L1225.3,442.3 L1227.4,445.6 L1229.4,449.0 L1231.5,452.2 L1233.6,455.4 L1235.7,458.6 L1237.7,461.8 L1239.8,464.8 L1241.9,467.9 L1244.0,470.9 L1246.0,473.9 L1248.1,476.8 L1250.2,479.7 L1252.3,482.5 L1254.3,485.3 L1256.4,488.1 L1258.5,490.8 L1260.5,493.5 L1262.6,496.2 L1264.7,498.8 L1266.8,501.3 L1268.8,503.9 L1270.9,506.4 L1273.0,508.9 L1275.1,511.3 L1277.1,513.7 L1279.2,516.1 L1281.3,518.4 L1283.4,520.7 L1285.4,523.0 L1287.5,525.3 L1289.6,527.5 L1291.7,529.7 L1293.7,531.8 L1295.8,533.9 L1297.9,536.0 L1299.9,538.1 L1302.0,540.1 L1304.1,542.1 L1306.2,544.1 L1308.2,546.1 L1310.3,548.0 L1312.4,549.9 L1314.5,551.8 L1316.5,553.6 L1318.6,555.4 L1320.7,557.2 L1322.8,559.0 L1324.8,560.8 L1326.9,562.5 L1329.0,564.2 L1331.1,565.9 L1333.1,567.5 L1335.2,569.1 L1337.3,570.7 L1339.3,572.3 L1341.4,573.9 L1343.5,575.4 L1345.6,577.0 L1347.6,578.5 L1349.7,579.9 L1351.8,581.4 L1353.9,582.8 L1355.9,584.2 L1358.0,585.6 L1360.1,587.0 L1362.2,588.4 L1364.2,589.7 L1366.3,591.0 L1368.4,592.4 L1370.5,593.6 L1372.5,594.9 L1374.6,596.2 L1376.7,597.4 L1378.7,598.6 L1380.8,599.8 L1382.9,601.0 L1385.0,602.2 L1387.0,603.3 L1389.1,604.4 L1391.2,605.6 L1393.3,606.7 L1395.3,607.8 L1397.4,608.8 L1399.5,609.9 L1401.6,610.9 L1403.6,612.0 L1405.7,613.0 L1407.8,614.0 L1409.9,615.0 L1411.9,615.9 L1414.0,616.9 L1416.1,617.9 L1418.1,618.9 L1420.2,619.9 L1422.3,620.9 L1424.4,621.9 L1426.4,622.8 L1428.5,623.8 L1430.6,624.7 L1432.7,625.6 L1434.7,626.5 L1436.8,627.4 L1438.9,628.2 L1441.0,629.1 L1443.0,630.0 L1445.1,630.8 L1447.2,631.6 L1449.3,632.4 L1451.3,633.2 L1453.4,634.0 L1455.5,634.8 L1457.5,635.6 L1459.6,636.3 L1461.7,637.1 L1463.8,637.8 L1465.8,638.5 L1467.9,639.3 L1470.0,640.0 L1472.1,640.7 L1474.1,641.3 L1476.2,642.0 L1478.3,642.7 L1480.4,643.3 L1482.4,644.0 L1484.5,644.6 L1486.6,645.3 L1488.7,645.9 L1490.7,646.5 L1492.8,647.1 L1494.9,647.7 L1496.9,648.3 L1499.0,648.9 L1501.1,649.4 L1503.2,650.0 L1505.2,650.5 L1507.3,651.1 L1509.4,651.6 L1511.5,652.1 L1513.5,652.7 L1515.6,653.2 L1517.7,653.7 L1519.8,654.2 L1521.8,654.7 L1523.9,655.1 L1526.0,655.6 L1528.1,656.1 L1530.1,656.6 L1532.2,657.0 L1534.3,657.5 L1536.3,657.9 L1538.4,658.3 L1540.5,658.8 L1542.6,659.2 L1544.6,659.6 L1546.7,660.0 L1548.8,660.4 L1550.9,660.8 L1552.9,661.2 L1555.0,661.6 L1557.1,662.0 L1559.2,662.3 L1561.2,662.7 L1563.3,663.1 L1565.4,663.4 L1567.5,663.8 L1569.5,664.1 L1571.6,664.5 L1573.7,664.8 L1575.7,665.2 L1577.8,665.5 L1579.9,665.8 L1582.0,666.1 L1584.0,666.4 L1586.1,666.7 L1588.2,667.0 L1590.3,667.3 L1592.3,667.6 L1594.4,667.9 L1596.5,668.2 L1598.6,668.5 L1600.6,668.8 L1602.7,669.0 L1604.8,669.3 L1606.9,669.6 L1608.9,669.8 L1611.0,670.1 L1613.1,670.3 L1615.1,670.6 L1617.2,670.8 L1619.3,671.1 L1621.4,671.3 L1623.4,671.5 L1625.5,671.8 L1627.6,672.0 L1629.7,672.2 L1631.7,672.4 L1633.8,672.7 L1635.9,672.9 L1638.0,673.1 L1640.0,673.3 L1642.1,673.5 L1644.2,673.7 L1646.3,673.9 L1648.3,674.1 L1650.4,674.3 L1652.5,674.4 L1654.5,674.6 L1656.6,674.8 L1658.7,675.0 L1660.8,675.2 L1662.8,675.3 L1664.9,675.5 L1667.0,675.7 L1669.1,675.8 L1671.1,676.0 L1673.2,676.2 L1675.3,676.3 L1677.4,676.5 L1679.4,676.6 L1681.5,676.8 L1683.6,676.9 L1685.7,677.1 L1687.7,677.2 L1689.8,677.3 L1691.9,677.5 L1693.9,677.6 L1696.0,677.8 L1698.1,677.9 L1700.2,678.0 L1702.2,678.1 L1704.3,678.3 L1706.4,678.4 L1708.5,678.5 L1710.5,678.6 L1712.6,678.8 L1714.7,678.9 L1716.8,679.0 L1718.8,679.1 L1720.9,679.2 L1723.0,679.3 L1725.1,679.4 L1727.1,679.5 L1729.2,679.6 L1731.3,679.7 L1733.3,679.8 L1735.4,679.9 L1737.5,680.0 L1739.6,680.1 L1741.6,680.2 L1743.7,680.3 L1745.8,680.4 L1747.9,680.5 L1749.9,680.6 L1752.0,680.6 L1754.1,680.7 L1756.2,680.8 L1758.2,680.9 L1760.3,681.0 L1762.4,681.1 L1764.5,681.1 L1766.5,681.2 L1768.6,681.3 L1770.7,681.4 L1772.7,681.4 L1774.8,681.5 L1776.9,681.6 L1779.0,681.6 L1781.0,681.7 L1783.1,681.8 L1785.2,681.8 L1787.3,681.9 L1789.3,682.0 L1791.4,682.0 L1793.5,682.1 L1795.6,682.2 L1797.6,682.2 L1799.7,682.3 L1801.8,682.3 L1803.9,682.4 L1805.9,682.4 L1808.0,682.5 L1810.1,682.6 L1812.1,682.6 L1814.2,682.7 L1816.3,682.7 L1818.4,682.8 L1820.4,682.8 L1822.5,682.9 L1824.6,682.9 L1826.7,682.9 L1828.7,683.0 L1830.8,683.0 L1832.9,683.1 L1835.0,683.1 L1837.0,683.2 L1839.1,683.2 L1841.2,683.3 L1843.3,683.3 L1845.3,683.3 L1847.4,683.4 L1849.5,683.4 L1851.5,683.4 L1853.6,683.5 L1855.7,683.5 L1857.8,683.6 L1859.8,683.6 L1861.9,683.6 L1864.0,683.7 L1866.1,683.7 L1868.1,683.7 L1870.2,683.8 L1872.3,683.8 L1874.4,683.8 L1876.4,683.9 L1878.5,683.9 L1880.6,683.9 L1882.7,683.9 L1884.7,684.0 L1886.8,684.0 L1888.9,684.0 L1890.9,684.1 L1893.0,684.1 L1895.1,684.1 L1897.2,684.1 L1899.2,684.2 L1901.3,684.2 L1903.4,684.2 L1905.5,684.2 L1907.5,684.3 L1909.6,684.3 L1911.7,684.3 L1913.8,684.3 L1915.8,684.3 L1917.9,684.4 L1920.0,684.4 L1922.1,684.4 L1924.1,684.4 L1926.2,684.4 L1928.3,684.5 L1930.3,684.5 L1932.4,684.5 L1934.5,684.5 L1936.6,684.5 L1938.6,684.6 L1940.7,684.6 L1942.8,684.6 L1944.9,684.6 L1946.9,684.6 L1949.0,684.6 L1951.1,684.7 L1953.2,684.7 L1955.2,684.7 L1957.3,684.7 L1959.4,684.7 L1961.5,684.7 L1963.5,684.8 L1965.6,684.8" fill="none" stroke="#ff10ff" stroke-width="3.5" stroke-linejoin="round"/>
<path d="M1207.2,404.8 L1212.9,415.2 L1201.4,415.2Z" fill="#ff10ff"/>
<path d="M1276.1,506.5 L1281.9,516.9 L1270.3,516.9Z" fill="#ff10ff"/>
<path d="M1345.1,570.5 L1350.8,581.0 L1339.3,581.0Z" fill="#ff10ff"/>
<path d="M1414.0,610.9 L1419.8,621.3 L1408.2,621.3Z" fill="#ff10ff"/>
<path d="M1483.0,638.1 L1488.7,648.6 L1477.2,648.6Z" fill="#ff10ff"/>
<path d="M1551.9,655.0 L1557.7,665.4 L1546.1,665.4Z" fill="#ff10ff"/>
<path d="M1620.9,665.2 L1626.6,675.6 L1615.1,675.6Z" fill="#ff10ff"/>
<path d="M1689.8,671.3 L1695.6,681.7 L1684.0,681.7Z" fill="#ff10ff"/>
<path d="M1758.8,674.9 L1764.5,685.3 L1753.0,685.3Z" fill="#ff10ff"/>
<path d="M1827.7,676.9 L1833.5,687.4 L1821.9,687.4Z" fill="#ff10ff"/>
<path d="M1896.7,678.1 L1902.4,688.5 L1890.9,688.5Z" fill="#ff10ff"/>
<path d="M1965.6,678.7 L1971.4,689.2 L1959.8,689.2Z" fill="#ff10ff"/>
<path d="M1138.2,67.8 L1140.3,75.2 L1142.3,82.5 L1144.4,89.7 L1146.5,96.8 L1148.6,103.9 L1150.6,110.9 L1152.7,117.8 L1154.8,124.6 L1156.9,131.3 L1158.9,138.0 L1161.0,144.6 L1163.1,151.1 L1165.2,157.5 L1167.2,163.9 L1169.3,170.2 L1171.4,176.4 L1173.5,182.5 L1175.5,188.6 L1177.6,194.6 L1179.7,200.5 L1181.7,206.4 L1183.8,212.2 L1185.9,217.9 L1188.0,223.6 L1190.0,229.2 L1192.1,234.7 L1194.2,240.2 L1196.3,245.6 L1198.3,251.0 L1200.4,256.2 L1202.5,261.5 L1204.6,266.6 L1206.6,271.7 L1208.7,276.8 L1210.8,281.7 L1212.9,286.7 L1214.9,291.5 L1217.0,296.3 L1219.1,301.1 L1221.1,305.8 L1223.2,310.4 L1225.3,315.0 L1227.4,319.6 L1229.4,324.0 L1231.5,328.5 L1233.6,332.9 L1235.7,337.2 L1237.7,341.5 L1239.8,345.7 L1241.9,349.9 L1244.0,354.0 L1246.0,358.1 L1248.1,362.1 L1250.2,366.1 L1252.3,370.0 L1254.3,373.9 L1256.4,377.7 L1258.5,381.5 L1260.5,385.3 L1262.6,389.0 L1264.7,392.7 L1266.8,396.3 L1268.8,399.9 L1270.9,403.4 L1273.0,406.9 L1275.1,410.4 L1277.1,413.8 L1279.2,417.1 L1281.3,420.5 L1283.4,423.8 L1285.4,427.0 L1287.5,430.2 L1289.6,433.4 L1291.7,436.6 L1293.7,439.7 L1295.8,442.7 L1297.9,445.7 L1299.9,448.7 L1302.0,451.7 L1304.1,454.6 L1306.2,457.5 L1308.2,460.4 L1310.3,463.2 L1312.4,466.0 L1314.5,468.7 L1316.5,471.4 L1318.6,474.1 L1320.7,476.8 L1322.8,479.4 L1324.8,482.0 L1326.9,484.5 L1329.0,487.0 L1331.1,489.5 L1333.1,492.0 L1335.2,494.4 L1337.3,496.9 L1339.3,499.2 L1341.4,501.6 L1343.5,503.9 L1345.6,506.2 L1347.6,508.5 L1349.7,510.7 L1351.8,512.9 L1353.9,515.1 L1355.9,517.2 L1358.0,519.4 L1360.1,521.5 L1362.2,523.6 L1364.2,525.6 L1366.3,527.6 L1368.4,529.6 L1370.5,531.6 L1372.5,533.6 L1374.6,535.5 L1376.7,537.4 L1378.7,539.3 L1380.8,541.2 L1382.9,543.0 L1385.0,544.8 L1387.0,546.6 L1389.1,548.4 L1391.2,550.1 L1393.3,551.9 L1395.3,553.6 L1397.4,555.3 L1399.5,556.9 L1401.6,558.6 L1403.6,560.2 L1405.7,561.8 L1407.8,563.4 L1409.9,565.0 L1411.9,566.5 L1414.0,568.0 L1416.1,569.6 L1418.1,571.0 L1420.2,572.5 L1422.3,574.0 L1424.4,575.4 L1426.4,576.8 L1428.5,578.2 L1430.6,579.6 L1432.7,581.0 L1434.7,582.3 L1436.8,583.7 L1438.9,585.0 L1441.0,586.3 L1443.0,587.6 L1445.1,588.8 L1447.2,590.1 L1449.3,591.3 L1451.3,592.5 L1453.4,593.7 L1455.5,594.9 L1457.5,596.1 L1459.6,597.3 L1461.7,598.4 L1463.8,599.6 L1465.8,600.7 L1467.9,601.8 L1470.0,602.9 L1472.1,603.9 L1474.1,605.0 L1476.2,606.1 L1478.3,607.1 L1480.4,608.1 L1482.4,609.1 L1484.5,610.1 L1486.6,611.1 L1488.7,612.1 L1490.7,613.1 L1492.8,614.0 L1494.9,614.9 L1496.9,615.9 L1499.0,616.8 L1501.1,617.7 L1503.2,618.6 L1505.2,619.4 L1507.3,620.3 L1509.4,621.2 L1511.5,622.0 L1513.5,622.9 L1515.6,623.7 L1517.7,624.5 L1519.8,625.3 L1521.8,626.1 L1523.9,626.9 L1526.0,627.7 L1528.1,628.4 L1530.1,629.2 L1532.2,629.9 L1534.3,630.7 L1536.3,631.4 L1538.4,632.1 L1540.5,632.8 L1542.6,633.5 L1544.6,634.2 L1546.7,634.9 L1548.8,635.5 L1550.9,636.2 L1552.9,636.8 L1555.0,637.5 L1557.1,638.1 L1559.2,638.7 L1561.2,639.3 L1563.3,639.8 L1565.4,640.4 L1567.5,641.0 L1569.5,641.6 L1571.6,642.1 L1573.7,642.7 L1575.7,643.2 L1577.8,643.7 L1579.9,644.3 L1582.0,644.8 L1584.0,645.3 L1586.1,645.8 L1588.2,646.3 L1590.3,646.8 L1592.3,647.3 L1594.4,647.8 L1596.5,648.2 L1598.6,648.7 L1600.6,649.2 L1602.7,649.6 L1604.8,650.1 L1606.9,650.5 L1608.9,651.0 L1611.0,651.4 L1613.1,651.8 L1615.1,652.3 L1617.2,652.7 L1619.3,653.1 L1621.4,653.5 L1623.4,653.9 L1625.5,654.3 L1627.6,654.7 L1629.7,655.1 L1631.7,655.5 L1633.8,655.9 L1635.9,656.2 L1638.0,656.6 L1640.0,657.0 L1642.1,657.3 L1644.2,657.7 L1646.3,658.0 L1648.3,658.4 L1650.4,658.7 L1652.5,659.1 L1654.5,659.4 L1656.6,659.7 L1658.7,660.1 L1660.8,660.4 L1662.8,660.7 L1664.9,661.0 L1667.0,661.3 L1669.1,661.6 L1671.1,661.9 L1673.2,662.2 L1675.3,662.5 L1677.4,662.8 L1679.4,663.1 L1681.5,663.4 L1683.6,663.7 L1685.7,663.9 L1687.7,664.2 L1689.8,664.5 L1691.9,664.7 L1693.9,665.0 L1696.0,665.3 L1698.1,665.5 L1700.2,665.8 L1702.2,666.0 L1704.3,666.3 L1706.4,666.5 L1708.5,666.7 L1710.5,667.0 L1712.6,667.2 L1714.7,667.4 L1716.8,667.7 L1718.8,667.9 L1720.9,668.1 L1723.0,668.3 L1725.1,668.6 L1727.1,668.8 L1729.2,669.0 L1731.3,669.2 L1733.3,669.4 L1735.4,669.6 L1737.5,669.8 L1739.6,670.0 L1741.6,670.2 L1743.7,670.4 L1745.8,670.6 L1747.9,670.8 L1749.9,671.0 L1752.0,671.1 L1754.1,671.3 L1756.2,671.5 L1758.2,671.7 L1760.3,671.8 L1762.4,672.0 L1764.5,672.2 L1766.5,672.4 L1768.6,672.5 L1770.7,672.7 L1772.7,672.8 L1774.8,673.0 L1776.9,673.2 L1779.0,673.3 L1781.0,673.5 L1783.1,673.6 L1785.2,673.8 L1787.3,673.9 L1789.3,674.1 L1791.4,674.2 L1793.5,674.4 L1795.6,674.5 L1797.6,674.6 L1799.7,674.8 L1801.8,674.9 L1803.9,675.0 L1805.9,675.2 L1808.0,675.3 L1810.1,675.4 L1812.1,675.6 L1814.2,675.7 L1816.3,675.8 L1818.4,675.9 L1820.4,676.1 L1822.5,676.2 L1824.6,676.3 L1826.7,676.4 L1828.7,676.5 L1830.8,676.6 L1832.9,676.7 L1835.0,676.9 L1837.0,677.0 L1839.1,677.1 L1841.2,677.2 L1843.3,677.3 L1845.3,677.4 L1847.4,677.5 L1849.5,677.6 L1851.5,677.7 L1853.6,677.8 L1855.7,677.9 L1857.8,678.0 L1859.8,678.1 L1861.9,678.2 L1864.0,678.3 L1866.1,678.4 L1868.1,678.4 L1870.2,678.5 L1872.3,678.6 L1874.4,678.7 L1876.4,678.8 L1878.5,678.9 L1880.6,679.0 L1882.7,679.0 L1884.7,679.1 L1886.8,679.2 L1888.9,679.3 L1890.9,679.4 L1893.0,679.4 L1895.1,679.5 L1897.2,679.6 L1899.2,679.7 L1901.3,679.7 L1903.4,679.8 L1905.5,679.9 L1907.5,680.0 L1909.6,680.0 L1911.7,680.1 L1913.8,680.2 L1915.8,680.2 L1917.9,680.3 L1920.0,680.4 L1922.1,680.4 L1924.1,680.5 L1926.2,680.6 L1928.3,680.6 L1930.3,680.7 L1932.4,680.7 L1934.5,680.8 L1936.6,680.9 L1938.6,680.9 L1940.7,681.0 L1942.8,681.0 L1944.9,681.1 L1946.9,681.1 L1949.0,681.2 L1951.1,681.3 L1953.2,681.3 L1955.2,681.4 L1957.3,681.4 L1959.4,681.5 L1961.5,681.5 L1963.5,681.6 L1965.6,681.6" fill="none" stroke="#30f2f2" stroke-width="8" stroke-linejoin="round"/>
<path d="M1138.2,67.8 L1140.3,75.2 L1142.3,82.5 L1144.4,89.7 L1146.5,96.8 L1148.6,103.9 L1150.6,110.9 L1152.7,117.8 L1154.8,124.6 L1156.9,131.3 L1158.9,138.0 L1161.0,144.6 L1163.1,151.1 L1165.2,157.5 L1167.2,163.9 L1169.3,170.2 L1171.4,176.4 L1173.5,182.5 L1175.5,188.6 L1177.6,194.6 L1179.7,200.5 L1181.7,206.4 L1183.8,212.2 L1185.9,217.9 L1188.0,223.6 L1190.0,229.2 L1192.1,234.7 L1194.2,240.2 L1196.3,245.6 L1198.3,251.0 L1200.4,256.2 L1202.5,261.5 L1204.6,266.6 L1206.6,271.7 L1208.7,276.8 L1210.8,281.7 L1212.9,286.7 L1214.9,291.5 L1217.0,296.3 L1219.1,301.1 L1221.1,305.8 L1223.2,310.4 L1225.3,315.0 L1227.4,319.6 L1229.4,324.0 L1231.5,328.5 L1233.6,332.9 L1235.7,337.2 L1237.7,341.5 L1239.8,345.7 L1241.9,349.9 L1244.0,354.0 L1246.0,358.1 L1248.1,362.1 L1250.2,366.1 L1252.3,370.0 L1254.3,373.9 L1256.4,377.7 L1258.5,381.5 L1260.5,385.3 L1262.6,389.0 L1264.7,392.7 L1266.8,396.3 L1268.8,399.9 L1270.9,403.4 L1273.0,406.9 L1275.1,410.4 L1277.1,413.8 L1279.2,417.1 L1281.3,420.5 L1283.4,423.8 L1285.4,427.0 L1287.5,430.2 L1289.6,433.4 L1291.7,436.6 L1293.7,439.7 L1295.8,442.7 L1297.9,445.7 L1299.9,448.7 L1302.0,451.7 L1304.1,454.6 L1306.2,457.5 L1308.2,460.4 L1310.3,463.2 L1312.4,466.0 L1314.5,468.7 L1316.5,471.4 L1318.6,474.1 L1320.7,476.8 L1322.8,479.4 L1324.8,482.0 L1326.9,484.5 L1329.0,487.0 L1331.1,489.5 L1333.1,492.0 L1335.2,494.4 L1337.3,496.9 L1339.3,499.2 L1341.4,501.6 L1343.5,503.9 L1345.6,506.2 L1347.6,508.5 L1349.7,510.7 L1351.8,512.9 L1353.9,515.1 L1355.9,517.2 L1358.0,519.4 L1360.1,521.5 L1362.2,523.6 L1364.2,525.6 L1366.3,527.6 L1368.4,529.6 L1370.5,531.6 L1372.5,533.6 L1374.6,535.5 L1376.7,537.4 L1378.7,539.3 L1380.8,541.2 L1382.9,543.0 L1385.0,544.8 L1387.0,546.6 L1389.1,548.4 L1391.2,550.1 L1393.3,551.9 L1395.3,553.6 L1397.4,555.3 L1399.5,556.9 L1401.6,558.6 L1403.6,560.2 L1405.7,561.8 L1407.8,563.4 L1409.9,565.0 L1411.9,566.5 L1414.0,568.0 L1416.1,569.6 L1418.1,571.0 L1420.2,572.5 L1422.3,574.0 L1424.4,575.4 L1426.4,576.8 L1428.5,578.2 L1430.6,579.6 L1432.7,581.0 L1434.7,582.3 L1436.8,583.7 L1438.9,585.0 L1441.0,586.3 L1443.0,587.6 L1445.1,588.8 L1447.2,590.1 L1449.3,591.3 L1451.3,592.5 L1453.4,593.7 L1455.5,594.9 L1457.5,596.1 L1459.6,597.3 L1461.7,598.4 L1463.8,599.6 L1465.8,600.7 L1467.9,601.8 L1470.0,602.9 L1472.1,603.9 L1474.1,605.0 L1476.2,606.1 L1478.3,607.1 L1480.4,608.1 L1482.4,609.1 L1484.5,610.1 L1486.6,611.1 L1488.7,612.1 L1490.7,613.1 L1492.8,614.0 L1494.9,614.9 L1496.9,615.9 L1499.0,616.8 L1501.1,617.7 L1503.2,618.6 L1505.2,619.4 L1507.3,620.3 L1509.4,621.2 L1511.5,622.0 L1513.5,622.9 L1515.6,623.7 L1517.7,624.5 L1519.8,625.3 L1521.8,626.1 L1523.9,626.9 L1526.0,627.7 L1528.1,628.4 L1530.1,629.2 L1532.2,629.9 L1534.3,630.7 L1536.3,631.4 L1538.4,632.1 L1540.5,632.8 L1542.6,633.5 L1544.6,634.2 L1546.7,634.9 L1548.8,635.5 L1550.9,636.2 L1552.9,636.8 L1555.0,637.5 L1557.1,638.1 L1559.2,638.7 L1561.2,639.3 L1563.3,639.8 L1565.4,640.4 L1567.5,641.0 L1569.5,641.6 L1571.6,642.1 L1573.7,642.7 L1575.7,643.2 L1577.8,643.7 L1579.9,644.3 L1582.0,644.8 L1584.0,645.3 L1586.1,645.8 L1588.2,646.3 L1590.3,646.8 L1592.3,647.3 L1594.4,647.8 L1596.5,648.2 L1598.6,648.7 L1600.6,649.2 L1602.7,649.6 L1604.8,650.1 L1606.9,650.5 L1608.9,651.0 L1611.0,651.4 L1613.1,651.8 L1615.1,652.3 L1617.2,652.7 L1619.3,653.1 L1621.4,653.5 L1623.4,653.9 L1625.5,654.3 L1627.6,654.7 L1629.7,655.1 L1631.7,655.5 L1633.8,655.9 L1635.9,656.2 L1638.0,656.6 L1640.0,657.0 L1642.1,657.3 L1644.2,657.7 L1646.3,658.0 L1648.3,658.4 L1650.4,658.7 L1652.5,659.1 L1654.5,659.4 L1656.6,659.7 L1658.7,660.1 L1660.8,660.4 L1662.8,660.7 L1664.9,661.0 L1667.0,661.3 L1669.1,661.6 L1671.1,661.9 L1673.2,662.2 L1675.3,662.5 L1677.4,662.8 L1679.4,663.1 L1681.5,663.4 L1683.6,663.7 L1685.7,663.9 L1687.7,664.2 L1689.8,664.5 L1691.9,664.7 L1693.9,665.0 L1696.0,665.3 L1698.1,665.5 L1700.2,665.8 L1702.2,666.0 L1704.3,666.3 L1706.4,666.5 L1708.5,666.7 L1710.5,667.0 L1712.6,667.2 L1714.7,667.4 L1716.8,667.7 L1718.8,667.9 L1720.9,668.1 L1723.0,668.3 L1725.1,668.6 L1727.1,668.8 L1729.2,669.0 L1731.3,669.2 L1733.3,669.4 L1735.4,669.6 L1737.5,669.8 L1739.6,670.0 L1741.6,670.2 L1743.7,670.4 L1745.8,670.6 L1747.9,670.8 L1749.9,671.0 L1752.0,671.1 L1754.1,671.3 L1756.2,671.5 L1758.2,671.7 L1760.3,671.8 L1762.4,672.0 L1764.5,672.2 L1766.5,672.4 L1768.6,672.5 L1770.7,672.7 L1772.7,672.8 L1774.8,673.0 L1776.9,673.2 L1779.0,673.3 L1781.0,673.5 L1783.1,673.6 L1785.2,673.8 L1787.3,673.9 L1789.3,674.1 L1791.4,674.2 L1793.5,674.4 L1795.6,674.5 L1797.6,674.6 L1799.7,674.8 L1801.8,674.9 L1803.9,675.0 L1805.9,675.2 L1808.0,675.3 L1810.1,675.4 L1812.1,675.6 L1814.2,675.7 L1816.3,675.8 L1818.4,675.9 L1820.4,676.1 L1822.5,676.2 L1824.6,676.3 L1826.7,676.4 L1828.7,676.5 L1830.8,676.6 L1832.9,676.7 L1835.0,676.9 L1837.0,677.0 L1839.1,677.1 L1841.2,677.2 L1843.3,677.3 L1845.3,677.4 L1847.4,677.5 L1849.5,677.6 L1851.5,677.7 L1853.6,677.8 L1855.7,677.9 L1857.8,678.0 L1859.8,678.1 L1861.9,678.2 L1864.0,678.3 L1866.1,678.4 L1868.1,678.4 L1870.2,678.5 L1872.3,678.6 L1874.4,678.7 L1876.4,678.8 L1878.5,678.9 L1880.6,679.0 L1882.7,679.0 L1884.7,679.1 L1886.8,679.2 L1888.9,679.3 L1890.9,679.4 L1893.0,679.4 L1895.1,679.5 L1897.2,679.6 L1899.2,679.7 L1901.3,679.7 L1903.4,679.8 L1905.5,679.9 L1907.5,680.0 L1909.6,680.0 L1911.7,680.1 L1913.8,680.2 L1915.8,680.2 L1917.9,680.3 L1920.0,680.4 L1922.1,680.4 L1924.1,680.5 L1926.2,680.6 L1928.3,680.6 L1930.3,680.7 L1932.4,680.7 L1934.5,680.8 L1936.6,680.9 L1938.6,680.9 L1940.7,681.0 L1942.8,681.0 L1944.9,681.1 L1946.9,681.1 L1949.0,681.2 L1951.1,681.3 L1953.2,681.3 L1955.2,681.4 L1957.3,681.4 L1959.4,681.5 L1961.5,681.5 L1963.5,681.6 L1965.6,681.6" fill="none" stroke="#5a6a50" stroke-width="4.5" stroke-dasharray="5 9.7"/>
</g>
<text x="1126" y="694.0" font-size="21" font-family="Liberation Serif, serif" fill="#7a7a7a" textLength="8" lengthAdjust="spacingAndGlyphs">0</text>
<text x="1112" y="526.5" font-size="21" font-family="Liberation Serif, serif" fill="#7a7a7a" textLength="24" lengthAdjust="spacingAndGlyphs">0.5</text>
<text x="1126" y="359.5" font-size="21" font-family="Liberation Serif, serif" fill="#7a7a7a" textLength="7" lengthAdjust="spacingAndGlyphs">1</text>
<text x="1110" y="193.5" font-size="21" font-family="Liberation Serif, serif" fill="#7a7a7a" textLength="24" lengthAdjust="spacingAndGlyphs">1.5</text>
<text x="1127" y="28.0" font-size="21" font-family="Liberation Serif, serif" fill="#7a7a7a" textLength="8" lengthAdjust="spacingAndGlyphs">2</text>
<text x="1138.8" y="712.5" font-size="21" font-family="Liberation Serif, serif" fill="#7a7a7a" textLength="8" lengthAdjust="spacingAndGlyphs">0</text>
<text x="1413.0" y="712.5" font-size="21" font-family="Liberation Serif, serif" fill="#7a7a7a" textLength="8" lengthAdjust="spacingAndGlyphs">1</text>
<text x="1688.5" y="712.5" font-size="21" font-family="Liberation Serif, serif" fill="#7a7a7a" textLength="8" lengthAdjust="spacingAndGlyphs">2</text>
<text x="1966.4" y="712.5" font-size="21" font-family="Liberation Serif, serif" fill="#7a7a7a" textLength="8" lengthAdjust="spacingAndGlyphs">3</text>
<text x="1554" y="755" text-anchor="middle" font-size="26" fill="#6a6a6a" font-family="Liberation Serif, serif" font-weight="bold">y</text>
<text transform="translate(1094,352.5) rotate(-90)" text-anchor="middle" font-size="30" fill="#444" stroke="#444" stroke-width="0.9" font-family="Liberation Serif, serif" textLength="88" lengthAdjust="spacingAndGlyphs">T(y,t)</text>
<text x="1453" y="131.5" font-size="30" fill="#404040" stroke="#404040" stroke-width="0.8" font-family="Liberation Serif, serif" textLength="64" lengthAdjust="spacingAndGlyphs">t=10</text>
<rect x="1755" y="36.5" width="195" height="233.7" fill="#fff" stroke="#878787" stroke-width="3"/>
<rect x="1757.5" y="47.4" width="15" height="15" rx="4" fill="#ff1010"/>
<rect x="1773.0" y="47.4" width="15" height="15" rx="4" fill="#ff1010"/>
<rect x="1788.5" y="47.4" width="15" height="15" rx="4" fill="#ff1010"/>
<text transform="translate(1814,65.4) scale(0.74,1)" font-size="32" fill="#383838" stroke="#383838" stroke-width="0.25" font-family="Liberation Serif, serif" textLength="108.1" lengthAdjust="spacing">η1=2.0</text>
<line x1="1760" y1="93.6" x2="1803" y2="93.6" stroke="#0a0aff" stroke-width="4"/>
<path d="M1765,86.1 L1772,93.6 L1765,101.1 L1758,93.6Z" fill="#0a0aff"/>
<path d="M1780.5,86.1 L1787.5,93.6 L1780.5,101.1 L1773.5,93.6Z" fill="#0a0aff"/>
<path d="M1796,86.1 L1803,93.6 L1796,101.1 L1789,93.6Z" fill="#0a0aff"/>
<text transform="translate(1814,104.1) scale(0.74,1)" font-size="32" fill="#383838" stroke="#383838" stroke-width="0.25" font-family="Liberation Serif, serif" textLength="108.1" lengthAdjust="spacing">η1=1.5</text>
<line x1="1760" y1="132.3" x2="1803" y2="132.3" stroke="#14f014" stroke-width="4"/>
<circle cx="1765" cy="132.3" r="7.2" fill="#14f014"/>
<circle cx="1780.5" cy="132.3" r="7.2" fill="#14f014"/>
<circle cx="1796" cy="132.3" r="7.2" fill="#14f014"/>
<text transform="translate(1814,142.8) scale(0.74,1)" font-size="32" fill="#383838" stroke="#383838" stroke-width="0.25" font-family="Liberation Serif, serif" textLength="75.7" lengthAdjust="spacing">η1=1</text>
<line x1="1760" y1="171.8" x2="1803" y2="171.8" stroke="#ff10ff" stroke-width="4"/>
<circle cx="1765" cy="171.8" r="7.2" fill="#ff10ff"/>
<circle cx="1780.5" cy="171.8" r="7.2" fill="#ff10ff"/>
<circle cx="1796" cy="171.8" r="7.2" fill="#ff10ff"/>
<text transform="translate(1814,182.3) scale(0.74,1)" font-size="32" fill="#383838" stroke="#383838" stroke-width="0.25" font-family="Liberation Serif, serif" textLength="108.1" lengthAdjust="spacing">η1=0.5</text>
<line x1="1758" y1="208.6" x2="1804" y2="208.6" stroke="#30f2f2" stroke-width="12"/>
<text transform="translate(1814,219.1) scale(0.74,1)" font-size="32" fill="#383838" stroke="#383838" stroke-width="0.25" font-family="Liberation Serif, serif" textLength="163.5" lengthAdjust="spacing">η1=0.0005</text>
<line x1="1757" y1="248.2" x2="1804" y2="248.2" stroke="#7a6048" stroke-width="4.5" stroke-dasharray="5 10"/>
<text transform="translate(1814,258.7) scale(0.74,1)" font-size="32" fill="#383838" stroke="#383838" stroke-width="0.25" font-family="Liberation Serif, serif" textLength="79.7" lengthAdjust="spacing">η1=0</text>
<rect x="1135" y="760.3" width="24.8" height="30.3" fill="#e8101c"/>
<path d="M1180.5,759 L1191.8,775.5 L1180.5,791.8 L1169,775.5Z" fill="#3535c8"/>
<ellipse cx="1214.5" cy="778" rx="11.4" ry="15" fill="#10bb40"/>
<path d="M1247.5,761.6 L1259.9,784.3 L1234.7,784.3Z" fill="#f5a8c0"/>
<rect x="1272.7" y="764.8" width="21.7" height="21.2" fill="none" stroke="#b8f4f0" stroke-width="4"/>
<line x1="1173" y1="832" x2="1244.7" y2="832" stroke="#c06a8a" stroke-width="4"/>
<text x="1336.7" y="787" font-size="43" fill="#262626" font-family="Liberation Serif, serif" font-weight="bold" textLength="94.5" lengthAdjust="spacingAndGlyphs">Sehra</text>
<text x="1309" y="831" font-size="41" fill="#262626" font-family="Liberation Serif, serif" font-weight="bold" textLength="249.5" lengthAdjust="spacingAndGlyphs">Shah and Khan</text>
<text x="1564.8" y="806" font-size="26" fill="#1a1a1a" font-family="Liberation Serif, serif" font-weight="bold" textLength="24" lengthAdjust="spacingAndGlyphs">16</text>
</g>
</svg>
</body></html>
